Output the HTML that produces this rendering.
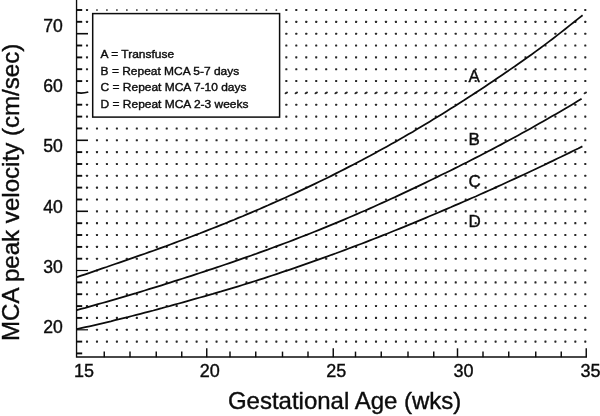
<!DOCTYPE html>
<html><head><meta charset="utf-8"><style>
html,body{margin:0;padding:0;background:#fff;}
svg{display:block;will-change:transform;opacity:0.999;filter:blur(0.3px)}
text{font-family:"Liberation Sans",sans-serif;fill:#0c0c0c;stroke:#0c0c0c;stroke-width:0.38}
</style></head><body>
<svg width="600" height="416" viewBox="0 0 600 416">
<rect width="600" height="416" fill="#fff"/>
<g fill="#262626" stroke="none"><rect x="85.95" y="8.95" width="2.1" height="2.1" rx="0.55"/><rect x="96.12" y="9.15" width="1.7" height="1.7" rx="0.5"/><rect x="106.08" y="9.15" width="1.7" height="1.7" rx="0.5"/><rect x="116.05" y="9.15" width="1.7" height="1.7" rx="0.5"/><rect x="126.01" y="9.15" width="1.7" height="1.7" rx="0.5"/><rect x="135.98" y="9.15" width="1.7" height="1.7" rx="0.5"/><rect x="145.95" y="9.15" width="1.7" height="1.7" rx="0.5"/><rect x="155.91" y="9.15" width="1.7" height="1.7" rx="0.5"/><rect x="165.88" y="9.15" width="1.7" height="1.7" rx="0.5"/><rect x="175.84" y="9.15" width="1.7" height="1.7" rx="0.5"/><rect x="185.81" y="9.15" width="1.7" height="1.7" rx="0.5"/><rect x="195.78" y="9.15" width="1.7" height="1.7" rx="0.5"/><rect x="205.74" y="9.15" width="1.7" height="1.7" rx="0.5"/><rect x="215.71" y="9.15" width="1.7" height="1.7" rx="0.5"/><rect x="225.67" y="9.15" width="1.7" height="1.7" rx="0.5"/><rect x="235.64" y="9.15" width="1.7" height="1.7" rx="0.5"/><rect x="245.61" y="9.15" width="1.7" height="1.7" rx="0.5"/><rect x="255.57" y="9.15" width="1.7" height="1.7" rx="0.5"/><rect x="265.54" y="9.15" width="1.7" height="1.7" rx="0.5"/><rect x="275.50" y="9.15" width="1.7" height="1.7" rx="0.5"/><rect x="285.27" y="8.95" width="2.1" height="2.1" rx="0.55"/><rect x="295.24" y="8.95" width="2.1" height="2.1" rx="0.55"/><rect x="305.20" y="8.95" width="2.1" height="2.1" rx="0.55"/><rect x="315.17" y="8.95" width="2.1" height="2.1" rx="0.55"/><rect x="325.13" y="8.95" width="2.1" height="2.1" rx="0.55"/><rect x="335.10" y="8.95" width="2.1" height="2.1" rx="0.55"/><rect x="345.07" y="8.95" width="2.1" height="2.1" rx="0.55"/><rect x="355.03" y="8.95" width="2.1" height="2.1" rx="0.55"/><rect x="365.00" y="8.95" width="2.1" height="2.1" rx="0.55"/><rect x="374.96" y="8.95" width="2.1" height="2.1" rx="0.55"/><rect x="384.93" y="8.95" width="2.1" height="2.1" rx="0.55"/><rect x="394.90" y="8.95" width="2.1" height="2.1" rx="0.55"/><rect x="404.86" y="8.95" width="2.1" height="2.1" rx="0.55"/><rect x="414.83" y="8.95" width="2.1" height="2.1" rx="0.55"/><rect x="424.79" y="8.95" width="2.1" height="2.1" rx="0.55"/><rect x="434.76" y="8.95" width="2.1" height="2.1" rx="0.55"/><rect x="444.73" y="8.95" width="2.1" height="2.1" rx="0.55"/><rect x="454.69" y="8.95" width="2.1" height="2.1" rx="0.55"/><rect x="464.66" y="8.95" width="2.1" height="2.1" rx="0.55"/><rect x="474.62" y="8.95" width="2.1" height="2.1" rx="0.55"/><rect x="484.59" y="8.95" width="2.1" height="2.1" rx="0.55"/><rect x="494.56" y="8.95" width="2.1" height="2.1" rx="0.55"/><rect x="504.52" y="8.95" width="2.1" height="2.1" rx="0.55"/><rect x="514.49" y="8.95" width="2.1" height="2.1" rx="0.55"/><rect x="524.45" y="8.95" width="2.1" height="2.1" rx="0.55"/><rect x="534.42" y="8.95" width="2.1" height="2.1" rx="0.55"/><rect x="544.39" y="8.95" width="2.1" height="2.1" rx="0.55"/><rect x="554.35" y="8.95" width="2.1" height="2.1" rx="0.55"/><rect x="564.32" y="8.95" width="2.1" height="2.1" rx="0.55"/><rect x="574.28" y="8.95" width="2.1" height="2.1" rx="0.55"/><rect x="584.25" y="8.95" width="2.1" height="2.1" rx="0.55"/><rect x="85.95" y="20.79" width="2.1" height="2.1" rx="0.55"/><rect x="285.27" y="20.79" width="2.1" height="2.1" rx="0.55"/><rect x="295.24" y="20.79" width="2.1" height="2.1" rx="0.55"/><rect x="305.20" y="20.79" width="2.1" height="2.1" rx="0.55"/><rect x="315.17" y="20.79" width="2.1" height="2.1" rx="0.55"/><rect x="325.13" y="20.79" width="2.1" height="2.1" rx="0.55"/><rect x="335.10" y="20.79" width="2.1" height="2.1" rx="0.55"/><rect x="345.07" y="20.79" width="2.1" height="2.1" rx="0.55"/><rect x="355.03" y="20.79" width="2.1" height="2.1" rx="0.55"/><rect x="365.00" y="20.79" width="2.1" height="2.1" rx="0.55"/><rect x="374.96" y="20.79" width="2.1" height="2.1" rx="0.55"/><rect x="384.93" y="20.79" width="2.1" height="2.1" rx="0.55"/><rect x="394.90" y="20.79" width="2.1" height="2.1" rx="0.55"/><rect x="404.86" y="20.79" width="2.1" height="2.1" rx="0.55"/><rect x="414.83" y="20.79" width="2.1" height="2.1" rx="0.55"/><rect x="424.79" y="20.79" width="2.1" height="2.1" rx="0.55"/><rect x="434.76" y="20.79" width="2.1" height="2.1" rx="0.55"/><rect x="444.73" y="20.79" width="2.1" height="2.1" rx="0.55"/><rect x="454.69" y="20.79" width="2.1" height="2.1" rx="0.55"/><rect x="464.66" y="20.79" width="2.1" height="2.1" rx="0.55"/><rect x="474.62" y="20.79" width="2.1" height="2.1" rx="0.55"/><rect x="484.59" y="20.79" width="2.1" height="2.1" rx="0.55"/><rect x="494.56" y="20.79" width="2.1" height="2.1" rx="0.55"/><rect x="504.52" y="20.79" width="2.1" height="2.1" rx="0.55"/><rect x="514.49" y="20.79" width="2.1" height="2.1" rx="0.55"/><rect x="524.45" y="20.79" width="2.1" height="2.1" rx="0.55"/><rect x="534.42" y="20.79" width="2.1" height="2.1" rx="0.55"/><rect x="544.39" y="20.79" width="2.1" height="2.1" rx="0.55"/><rect x="554.35" y="20.79" width="2.1" height="2.1" rx="0.55"/><rect x="564.32" y="20.79" width="2.1" height="2.1" rx="0.55"/><rect x="574.28" y="20.79" width="2.1" height="2.1" rx="0.55"/><rect x="584.25" y="20.79" width="2.1" height="2.1" rx="0.55"/><rect x="285.27" y="32.64" width="2.1" height="2.1" rx="0.55"/><rect x="295.24" y="32.64" width="2.1" height="2.1" rx="0.55"/><rect x="305.20" y="32.64" width="2.1" height="2.1" rx="0.55"/><rect x="315.17" y="32.64" width="2.1" height="2.1" rx="0.55"/><rect x="325.13" y="32.64" width="2.1" height="2.1" rx="0.55"/><rect x="335.10" y="32.64" width="2.1" height="2.1" rx="0.55"/><rect x="345.07" y="32.64" width="2.1" height="2.1" rx="0.55"/><rect x="355.03" y="32.64" width="2.1" height="2.1" rx="0.55"/><rect x="365.00" y="32.64" width="2.1" height="2.1" rx="0.55"/><rect x="374.96" y="32.64" width="2.1" height="2.1" rx="0.55"/><rect x="384.93" y="32.64" width="2.1" height="2.1" rx="0.55"/><rect x="394.90" y="32.64" width="2.1" height="2.1" rx="0.55"/><rect x="404.86" y="32.64" width="2.1" height="2.1" rx="0.55"/><rect x="414.83" y="32.64" width="2.1" height="2.1" rx="0.55"/><rect x="424.79" y="32.64" width="2.1" height="2.1" rx="0.55"/><rect x="434.76" y="32.64" width="2.1" height="2.1" rx="0.55"/><rect x="444.73" y="32.64" width="2.1" height="2.1" rx="0.55"/><rect x="454.69" y="32.64" width="2.1" height="2.1" rx="0.55"/><rect x="464.66" y="32.64" width="2.1" height="2.1" rx="0.55"/><rect x="474.62" y="32.64" width="2.1" height="2.1" rx="0.55"/><rect x="484.59" y="32.64" width="2.1" height="2.1" rx="0.55"/><rect x="494.56" y="32.64" width="2.1" height="2.1" rx="0.55"/><rect x="504.52" y="32.64" width="2.1" height="2.1" rx="0.55"/><rect x="514.49" y="32.64" width="2.1" height="2.1" rx="0.55"/><rect x="524.45" y="32.64" width="2.1" height="2.1" rx="0.55"/><rect x="534.42" y="32.64" width="2.1" height="2.1" rx="0.55"/><rect x="544.39" y="32.64" width="2.1" height="2.1" rx="0.55"/><rect x="554.35" y="32.64" width="2.1" height="2.1" rx="0.55"/><rect x="564.32" y="32.64" width="2.1" height="2.1" rx="0.55"/><rect x="574.28" y="32.64" width="2.1" height="2.1" rx="0.55"/><rect x="584.25" y="32.64" width="2.1" height="2.1" rx="0.55"/><rect x="85.95" y="44.48" width="2.1" height="2.1" rx="0.55"/><rect x="285.27" y="44.48" width="2.1" height="2.1" rx="0.55"/><rect x="295.24" y="44.48" width="2.1" height="2.1" rx="0.55"/><rect x="305.20" y="44.48" width="2.1" height="2.1" rx="0.55"/><rect x="315.17" y="44.48" width="2.1" height="2.1" rx="0.55"/><rect x="325.13" y="44.48" width="2.1" height="2.1" rx="0.55"/><rect x="335.10" y="44.48" width="2.1" height="2.1" rx="0.55"/><rect x="345.07" y="44.48" width="2.1" height="2.1" rx="0.55"/><rect x="355.03" y="44.48" width="2.1" height="2.1" rx="0.55"/><rect x="365.00" y="44.48" width="2.1" height="2.1" rx="0.55"/><rect x="374.96" y="44.48" width="2.1" height="2.1" rx="0.55"/><rect x="384.93" y="44.48" width="2.1" height="2.1" rx="0.55"/><rect x="394.90" y="44.48" width="2.1" height="2.1" rx="0.55"/><rect x="404.86" y="44.48" width="2.1" height="2.1" rx="0.55"/><rect x="414.83" y="44.48" width="2.1" height="2.1" rx="0.55"/><rect x="424.79" y="44.48" width="2.1" height="2.1" rx="0.55"/><rect x="434.76" y="44.48" width="2.1" height="2.1" rx="0.55"/><rect x="444.73" y="44.48" width="2.1" height="2.1" rx="0.55"/><rect x="454.69" y="44.48" width="2.1" height="2.1" rx="0.55"/><rect x="464.66" y="44.48" width="2.1" height="2.1" rx="0.55"/><rect x="474.62" y="44.48" width="2.1" height="2.1" rx="0.55"/><rect x="484.59" y="44.48" width="2.1" height="2.1" rx="0.55"/><rect x="494.56" y="44.48" width="2.1" height="2.1" rx="0.55"/><rect x="504.52" y="44.48" width="2.1" height="2.1" rx="0.55"/><rect x="514.49" y="44.48" width="2.1" height="2.1" rx="0.55"/><rect x="524.45" y="44.48" width="2.1" height="2.1" rx="0.55"/><rect x="534.42" y="44.48" width="2.1" height="2.1" rx="0.55"/><rect x="544.39" y="44.48" width="2.1" height="2.1" rx="0.55"/><rect x="554.35" y="44.48" width="2.1" height="2.1" rx="0.55"/><rect x="564.32" y="44.48" width="2.1" height="2.1" rx="0.55"/><rect x="574.28" y="44.48" width="2.1" height="2.1" rx="0.55"/><rect x="584.25" y="44.48" width="2.1" height="2.1" rx="0.55"/><rect x="85.95" y="56.32" width="2.1" height="2.1" rx="0.55"/><rect x="285.27" y="56.32" width="2.1" height="2.1" rx="0.55"/><rect x="295.24" y="56.32" width="2.1" height="2.1" rx="0.55"/><rect x="305.20" y="56.32" width="2.1" height="2.1" rx="0.55"/><rect x="315.17" y="56.32" width="2.1" height="2.1" rx="0.55"/><rect x="325.13" y="56.32" width="2.1" height="2.1" rx="0.55"/><rect x="335.10" y="56.32" width="2.1" height="2.1" rx="0.55"/><rect x="345.07" y="56.32" width="2.1" height="2.1" rx="0.55"/><rect x="355.03" y="56.32" width="2.1" height="2.1" rx="0.55"/><rect x="365.00" y="56.32" width="2.1" height="2.1" rx="0.55"/><rect x="374.96" y="56.32" width="2.1" height="2.1" rx="0.55"/><rect x="384.93" y="56.32" width="2.1" height="2.1" rx="0.55"/><rect x="394.90" y="56.32" width="2.1" height="2.1" rx="0.55"/><rect x="404.86" y="56.32" width="2.1" height="2.1" rx="0.55"/><rect x="414.83" y="56.32" width="2.1" height="2.1" rx="0.55"/><rect x="424.79" y="56.32" width="2.1" height="2.1" rx="0.55"/><rect x="434.76" y="56.32" width="2.1" height="2.1" rx="0.55"/><rect x="444.73" y="56.32" width="2.1" height="2.1" rx="0.55"/><rect x="454.69" y="56.32" width="2.1" height="2.1" rx="0.55"/><rect x="464.66" y="56.32" width="2.1" height="2.1" rx="0.55"/><rect x="474.62" y="56.32" width="2.1" height="2.1" rx="0.55"/><rect x="484.59" y="56.32" width="2.1" height="2.1" rx="0.55"/><rect x="494.56" y="56.32" width="2.1" height="2.1" rx="0.55"/><rect x="504.52" y="56.32" width="2.1" height="2.1" rx="0.55"/><rect x="514.49" y="56.32" width="2.1" height="2.1" rx="0.55"/><rect x="524.45" y="56.32" width="2.1" height="2.1" rx="0.55"/><rect x="534.42" y="56.32" width="2.1" height="2.1" rx="0.55"/><rect x="544.39" y="56.32" width="2.1" height="2.1" rx="0.55"/><rect x="554.35" y="56.32" width="2.1" height="2.1" rx="0.55"/><rect x="564.32" y="56.32" width="2.1" height="2.1" rx="0.55"/><rect x="574.28" y="56.32" width="2.1" height="2.1" rx="0.55"/><rect x="584.25" y="56.32" width="2.1" height="2.1" rx="0.55"/><rect x="85.95" y="68.16" width="2.1" height="2.1" rx="0.55"/><rect x="285.27" y="68.16" width="2.1" height="2.1" rx="0.55"/><rect x="295.24" y="68.16" width="2.1" height="2.1" rx="0.55"/><rect x="305.20" y="68.16" width="2.1" height="2.1" rx="0.55"/><rect x="315.17" y="68.16" width="2.1" height="2.1" rx="0.55"/><rect x="325.13" y="68.16" width="2.1" height="2.1" rx="0.55"/><rect x="335.10" y="68.16" width="2.1" height="2.1" rx="0.55"/><rect x="345.07" y="68.16" width="2.1" height="2.1" rx="0.55"/><rect x="355.03" y="68.16" width="2.1" height="2.1" rx="0.55"/><rect x="365.00" y="68.16" width="2.1" height="2.1" rx="0.55"/><rect x="374.96" y="68.16" width="2.1" height="2.1" rx="0.55"/><rect x="384.93" y="68.16" width="2.1" height="2.1" rx="0.55"/><rect x="394.90" y="68.16" width="2.1" height="2.1" rx="0.55"/><rect x="404.86" y="68.16" width="2.1" height="2.1" rx="0.55"/><rect x="414.83" y="68.16" width="2.1" height="2.1" rx="0.55"/><rect x="424.79" y="68.16" width="2.1" height="2.1" rx="0.55"/><rect x="434.76" y="68.16" width="2.1" height="2.1" rx="0.55"/><rect x="444.73" y="68.16" width="2.1" height="2.1" rx="0.55"/><rect x="454.69" y="68.16" width="2.1" height="2.1" rx="0.55"/><rect x="464.66" y="68.16" width="2.1" height="2.1" rx="0.55"/><rect x="474.62" y="68.16" width="2.1" height="2.1" rx="0.55"/><rect x="484.59" y="68.16" width="2.1" height="2.1" rx="0.55"/><rect x="494.56" y="68.16" width="2.1" height="2.1" rx="0.55"/><rect x="504.52" y="68.16" width="2.1" height="2.1" rx="0.55"/><rect x="514.49" y="68.16" width="2.1" height="2.1" rx="0.55"/><rect x="524.45" y="68.16" width="2.1" height="2.1" rx="0.55"/><rect x="534.42" y="68.16" width="2.1" height="2.1" rx="0.55"/><rect x="544.39" y="68.16" width="2.1" height="2.1" rx="0.55"/><rect x="554.35" y="68.16" width="2.1" height="2.1" rx="0.55"/><rect x="564.32" y="68.16" width="2.1" height="2.1" rx="0.55"/><rect x="574.28" y="68.16" width="2.1" height="2.1" rx="0.55"/><rect x="584.25" y="68.16" width="2.1" height="2.1" rx="0.55"/><rect x="85.95" y="80.01" width="2.1" height="2.1" rx="0.55"/><rect x="285.27" y="80.01" width="2.1" height="2.1" rx="0.55"/><rect x="295.24" y="80.01" width="2.1" height="2.1" rx="0.55"/><rect x="305.20" y="80.01" width="2.1" height="2.1" rx="0.55"/><rect x="315.17" y="80.01" width="2.1" height="2.1" rx="0.55"/><rect x="325.13" y="80.01" width="2.1" height="2.1" rx="0.55"/><rect x="335.10" y="80.01" width="2.1" height="2.1" rx="0.55"/><rect x="345.07" y="80.01" width="2.1" height="2.1" rx="0.55"/><rect x="355.03" y="80.01" width="2.1" height="2.1" rx="0.55"/><rect x="365.00" y="80.01" width="2.1" height="2.1" rx="0.55"/><rect x="374.96" y="80.01" width="2.1" height="2.1" rx="0.55"/><rect x="384.93" y="80.01" width="2.1" height="2.1" rx="0.55"/><rect x="394.90" y="80.01" width="2.1" height="2.1" rx="0.55"/><rect x="404.86" y="80.01" width="2.1" height="2.1" rx="0.55"/><rect x="414.83" y="80.01" width="2.1" height="2.1" rx="0.55"/><rect x="424.79" y="80.01" width="2.1" height="2.1" rx="0.55"/><rect x="434.76" y="80.01" width="2.1" height="2.1" rx="0.55"/><rect x="444.73" y="80.01" width="2.1" height="2.1" rx="0.55"/><rect x="454.69" y="80.01" width="2.1" height="2.1" rx="0.55"/><rect x="464.66" y="80.01" width="2.1" height="2.1" rx="0.55"/><rect x="474.62" y="80.01" width="2.1" height="2.1" rx="0.55"/><rect x="484.59" y="80.01" width="2.1" height="2.1" rx="0.55"/><rect x="494.56" y="80.01" width="2.1" height="2.1" rx="0.55"/><rect x="504.52" y="80.01" width="2.1" height="2.1" rx="0.55"/><rect x="514.49" y="80.01" width="2.1" height="2.1" rx="0.55"/><rect x="524.45" y="80.01" width="2.1" height="2.1" rx="0.55"/><rect x="534.42" y="80.01" width="2.1" height="2.1" rx="0.55"/><rect x="544.39" y="80.01" width="2.1" height="2.1" rx="0.55"/><rect x="554.35" y="80.01" width="2.1" height="2.1" rx="0.55"/><rect x="564.32" y="80.01" width="2.1" height="2.1" rx="0.55"/><rect x="574.28" y="80.01" width="2.1" height="2.1" rx="0.55"/><rect x="584.25" y="80.01" width="2.1" height="2.1" rx="0.55"/><ellipse cx="286.3" cy="92.9" rx="1.85" ry="1.1" transform="rotate(-28 286.3 92.9)"/><ellipse cx="296.3" cy="92.9" rx="1.85" ry="1.1" transform="rotate(-28 296.3 92.9)"/><ellipse cx="306.3" cy="92.9" rx="1.85" ry="1.1" transform="rotate(-28 306.3 92.9)"/><ellipse cx="316.2" cy="92.9" rx="1.85" ry="1.1" transform="rotate(-28 316.2 92.9)"/><ellipse cx="326.2" cy="92.9" rx="1.85" ry="1.1" transform="rotate(-28 326.2 92.9)"/><ellipse cx="336.1" cy="92.9" rx="1.85" ry="1.1" transform="rotate(-28 336.1 92.9)"/><ellipse cx="346.1" cy="92.9" rx="1.85" ry="1.1" transform="rotate(-28 346.1 92.9)"/><ellipse cx="356.1" cy="92.9" rx="1.85" ry="1.1" transform="rotate(-28 356.1 92.9)"/><ellipse cx="366.0" cy="92.9" rx="1.85" ry="1.1" transform="rotate(-28 366.0 92.9)"/><ellipse cx="376.0" cy="92.9" rx="1.85" ry="1.1" transform="rotate(-28 376.0 92.9)"/><ellipse cx="386.0" cy="92.9" rx="1.85" ry="1.1" transform="rotate(-28 386.0 92.9)"/><ellipse cx="395.9" cy="92.9" rx="1.85" ry="1.1" transform="rotate(-28 395.9 92.9)"/><ellipse cx="405.9" cy="92.9" rx="1.85" ry="1.1" transform="rotate(-28 405.9 92.9)"/><ellipse cx="415.9" cy="92.9" rx="1.85" ry="1.1" transform="rotate(-28 415.9 92.9)"/><ellipse cx="425.8" cy="92.9" rx="1.85" ry="1.1" transform="rotate(-28 425.8 92.9)"/><ellipse cx="435.8" cy="92.9" rx="1.85" ry="1.1" transform="rotate(-28 435.8 92.9)"/><ellipse cx="445.8" cy="92.9" rx="1.85" ry="1.1" transform="rotate(-28 445.8 92.9)"/><ellipse cx="455.7" cy="92.9" rx="1.85" ry="1.1" transform="rotate(-28 455.7 92.9)"/><ellipse cx="465.7" cy="92.9" rx="1.85" ry="1.1" transform="rotate(-28 465.7 92.9)"/><ellipse cx="475.7" cy="92.9" rx="1.85" ry="1.1" transform="rotate(-28 475.7 92.9)"/><ellipse cx="485.6" cy="92.9" rx="1.85" ry="1.1" transform="rotate(-28 485.6 92.9)"/><ellipse cx="495.6" cy="92.9" rx="1.85" ry="1.1" transform="rotate(-28 495.6 92.9)"/><ellipse cx="505.6" cy="92.9" rx="1.85" ry="1.1" transform="rotate(-28 505.6 92.9)"/><ellipse cx="515.5" cy="92.9" rx="1.85" ry="1.1" transform="rotate(-28 515.5 92.9)"/><ellipse cx="525.5" cy="92.9" rx="1.85" ry="1.1" transform="rotate(-28 525.5 92.9)"/><ellipse cx="535.5" cy="92.9" rx="1.85" ry="1.1" transform="rotate(-28 535.5 92.9)"/><ellipse cx="545.4" cy="92.9" rx="1.85" ry="1.1" transform="rotate(-28 545.4 92.9)"/><ellipse cx="555.4" cy="92.9" rx="1.85" ry="1.1" transform="rotate(-28 555.4 92.9)"/><ellipse cx="565.4" cy="92.9" rx="1.85" ry="1.1" transform="rotate(-28 565.4 92.9)"/><ellipse cx="575.3" cy="92.9" rx="1.85" ry="1.1" transform="rotate(-28 575.3 92.9)"/><ellipse cx="585.3" cy="92.9" rx="1.85" ry="1.1" transform="rotate(-28 585.3 92.9)"/><rect x="85.95" y="103.69" width="2.1" height="2.1" rx="0.55"/><rect x="285.27" y="103.69" width="2.1" height="2.1" rx="0.55"/><rect x="295.24" y="103.69" width="2.1" height="2.1" rx="0.55"/><rect x="305.20" y="103.69" width="2.1" height="2.1" rx="0.55"/><rect x="315.17" y="103.69" width="2.1" height="2.1" rx="0.55"/><rect x="325.13" y="103.69" width="2.1" height="2.1" rx="0.55"/><rect x="335.10" y="103.69" width="2.1" height="2.1" rx="0.55"/><rect x="345.07" y="103.69" width="2.1" height="2.1" rx="0.55"/><rect x="355.03" y="103.69" width="2.1" height="2.1" rx="0.55"/><rect x="365.00" y="103.69" width="2.1" height="2.1" rx="0.55"/><rect x="374.96" y="103.69" width="2.1" height="2.1" rx="0.55"/><rect x="384.93" y="103.69" width="2.1" height="2.1" rx="0.55"/><rect x="394.90" y="103.69" width="2.1" height="2.1" rx="0.55"/><rect x="404.86" y="103.69" width="2.1" height="2.1" rx="0.55"/><rect x="414.83" y="103.69" width="2.1" height="2.1" rx="0.55"/><rect x="424.79" y="103.69" width="2.1" height="2.1" rx="0.55"/><rect x="434.76" y="103.69" width="2.1" height="2.1" rx="0.55"/><rect x="444.73" y="103.69" width="2.1" height="2.1" rx="0.55"/><rect x="454.69" y="103.69" width="2.1" height="2.1" rx="0.55"/><rect x="464.66" y="103.69" width="2.1" height="2.1" rx="0.55"/><rect x="474.62" y="103.69" width="2.1" height="2.1" rx="0.55"/><rect x="484.59" y="103.69" width="2.1" height="2.1" rx="0.55"/><rect x="494.56" y="103.69" width="2.1" height="2.1" rx="0.55"/><rect x="504.52" y="103.69" width="2.1" height="2.1" rx="0.55"/><rect x="514.49" y="103.69" width="2.1" height="2.1" rx="0.55"/><rect x="524.45" y="103.69" width="2.1" height="2.1" rx="0.55"/><rect x="534.42" y="103.69" width="2.1" height="2.1" rx="0.55"/><rect x="544.39" y="103.69" width="2.1" height="2.1" rx="0.55"/><rect x="554.35" y="103.69" width="2.1" height="2.1" rx="0.55"/><rect x="564.32" y="103.69" width="2.1" height="2.1" rx="0.55"/><rect x="574.28" y="103.69" width="2.1" height="2.1" rx="0.55"/><rect x="584.25" y="103.69" width="2.1" height="2.1" rx="0.55"/><rect x="85.95" y="115.54" width="2.1" height="2.1" rx="0.55"/><rect x="285.27" y="115.54" width="2.1" height="2.1" rx="0.55"/><rect x="295.24" y="115.54" width="2.1" height="2.1" rx="0.55"/><rect x="305.20" y="115.54" width="2.1" height="2.1" rx="0.55"/><rect x="315.17" y="115.54" width="2.1" height="2.1" rx="0.55"/><rect x="325.13" y="115.54" width="2.1" height="2.1" rx="0.55"/><rect x="335.10" y="115.54" width="2.1" height="2.1" rx="0.55"/><rect x="345.07" y="115.54" width="2.1" height="2.1" rx="0.55"/><rect x="355.03" y="115.54" width="2.1" height="2.1" rx="0.55"/><rect x="365.00" y="115.54" width="2.1" height="2.1" rx="0.55"/><rect x="374.96" y="115.54" width="2.1" height="2.1" rx="0.55"/><rect x="384.93" y="115.54" width="2.1" height="2.1" rx="0.55"/><rect x="394.90" y="115.54" width="2.1" height="2.1" rx="0.55"/><rect x="404.86" y="115.54" width="2.1" height="2.1" rx="0.55"/><rect x="414.83" y="115.54" width="2.1" height="2.1" rx="0.55"/><rect x="424.79" y="115.54" width="2.1" height="2.1" rx="0.55"/><rect x="434.76" y="115.54" width="2.1" height="2.1" rx="0.55"/><rect x="444.73" y="115.54" width="2.1" height="2.1" rx="0.55"/><rect x="454.69" y="115.54" width="2.1" height="2.1" rx="0.55"/><rect x="464.66" y="115.54" width="2.1" height="2.1" rx="0.55"/><rect x="474.62" y="115.54" width="2.1" height="2.1" rx="0.55"/><rect x="484.59" y="115.54" width="2.1" height="2.1" rx="0.55"/><rect x="494.56" y="115.54" width="2.1" height="2.1" rx="0.55"/><rect x="504.52" y="115.54" width="2.1" height="2.1" rx="0.55"/><rect x="514.49" y="115.54" width="2.1" height="2.1" rx="0.55"/><rect x="524.45" y="115.54" width="2.1" height="2.1" rx="0.55"/><rect x="534.42" y="115.54" width="2.1" height="2.1" rx="0.55"/><rect x="544.39" y="115.54" width="2.1" height="2.1" rx="0.55"/><rect x="554.35" y="115.54" width="2.1" height="2.1" rx="0.55"/><rect x="564.32" y="115.54" width="2.1" height="2.1" rx="0.55"/><rect x="574.28" y="115.54" width="2.1" height="2.1" rx="0.55"/><rect x="584.25" y="115.54" width="2.1" height="2.1" rx="0.55"/><rect x="85.95" y="127.38" width="2.1" height="2.1" rx="0.55"/><rect x="95.92" y="127.38" width="2.1" height="2.1" rx="0.55"/><rect x="105.88" y="127.38" width="2.1" height="2.1" rx="0.55"/><rect x="115.85" y="127.38" width="2.1" height="2.1" rx="0.55"/><rect x="125.81" y="127.38" width="2.1" height="2.1" rx="0.55"/><rect x="135.78" y="127.38" width="2.1" height="2.1" rx="0.55"/><rect x="145.75" y="127.38" width="2.1" height="2.1" rx="0.55"/><rect x="155.71" y="127.38" width="2.1" height="2.1" rx="0.55"/><rect x="165.68" y="127.38" width="2.1" height="2.1" rx="0.55"/><rect x="175.64" y="127.38" width="2.1" height="2.1" rx="0.55"/><rect x="185.61" y="127.38" width="2.1" height="2.1" rx="0.55"/><rect x="195.58" y="127.38" width="2.1" height="2.1" rx="0.55"/><rect x="205.54" y="127.38" width="2.1" height="2.1" rx="0.55"/><rect x="215.51" y="127.38" width="2.1" height="2.1" rx="0.55"/><rect x="225.47" y="127.38" width="2.1" height="2.1" rx="0.55"/><rect x="235.44" y="127.38" width="2.1" height="2.1" rx="0.55"/><rect x="245.41" y="127.38" width="2.1" height="2.1" rx="0.55"/><rect x="255.37" y="127.38" width="2.1" height="2.1" rx="0.55"/><rect x="265.34" y="127.38" width="2.1" height="2.1" rx="0.55"/><rect x="275.30" y="127.38" width="2.1" height="2.1" rx="0.55"/><rect x="285.27" y="127.38" width="2.1" height="2.1" rx="0.55"/><rect x="295.24" y="127.38" width="2.1" height="2.1" rx="0.55"/><rect x="305.20" y="127.38" width="2.1" height="2.1" rx="0.55"/><rect x="315.17" y="127.38" width="2.1" height="2.1" rx="0.55"/><rect x="325.13" y="127.38" width="2.1" height="2.1" rx="0.55"/><rect x="335.10" y="127.38" width="2.1" height="2.1" rx="0.55"/><rect x="345.07" y="127.38" width="2.1" height="2.1" rx="0.55"/><rect x="355.03" y="127.38" width="2.1" height="2.1" rx="0.55"/><rect x="365.00" y="127.38" width="2.1" height="2.1" rx="0.55"/><rect x="374.96" y="127.38" width="2.1" height="2.1" rx="0.55"/><rect x="384.93" y="127.38" width="2.1" height="2.1" rx="0.55"/><rect x="394.90" y="127.38" width="2.1" height="2.1" rx="0.55"/><rect x="404.86" y="127.38" width="2.1" height="2.1" rx="0.55"/><rect x="414.83" y="127.38" width="2.1" height="2.1" rx="0.55"/><rect x="424.79" y="127.38" width="2.1" height="2.1" rx="0.55"/><rect x="434.76" y="127.38" width="2.1" height="2.1" rx="0.55"/><rect x="444.73" y="127.38" width="2.1" height="2.1" rx="0.55"/><rect x="454.69" y="127.38" width="2.1" height="2.1" rx="0.55"/><rect x="464.66" y="127.38" width="2.1" height="2.1" rx="0.55"/><rect x="474.62" y="127.38" width="2.1" height="2.1" rx="0.55"/><rect x="484.59" y="127.38" width="2.1" height="2.1" rx="0.55"/><rect x="494.56" y="127.38" width="2.1" height="2.1" rx="0.55"/><rect x="504.52" y="127.38" width="2.1" height="2.1" rx="0.55"/><rect x="514.49" y="127.38" width="2.1" height="2.1" rx="0.55"/><rect x="524.45" y="127.38" width="2.1" height="2.1" rx="0.55"/><rect x="534.42" y="127.38" width="2.1" height="2.1" rx="0.55"/><rect x="544.39" y="127.38" width="2.1" height="2.1" rx="0.55"/><rect x="554.35" y="127.38" width="2.1" height="2.1" rx="0.55"/><rect x="564.32" y="127.38" width="2.1" height="2.1" rx="0.55"/><rect x="574.28" y="127.38" width="2.1" height="2.1" rx="0.55"/><rect x="584.25" y="127.38" width="2.1" height="2.1" rx="0.55"/><rect x="95.92" y="139.22" width="2.1" height="2.1" rx="0.55"/><rect x="105.88" y="139.22" width="2.1" height="2.1" rx="0.55"/><rect x="115.85" y="139.22" width="2.1" height="2.1" rx="0.55"/><rect x="125.81" y="139.22" width="2.1" height="2.1" rx="0.55"/><rect x="135.78" y="139.22" width="2.1" height="2.1" rx="0.55"/><rect x="145.75" y="139.22" width="2.1" height="2.1" rx="0.55"/><rect x="155.71" y="139.22" width="2.1" height="2.1" rx="0.55"/><rect x="165.68" y="139.22" width="2.1" height="2.1" rx="0.55"/><rect x="175.64" y="139.22" width="2.1" height="2.1" rx="0.55"/><rect x="185.61" y="139.22" width="2.1" height="2.1" rx="0.55"/><rect x="195.58" y="139.22" width="2.1" height="2.1" rx="0.55"/><rect x="205.54" y="139.22" width="2.1" height="2.1" rx="0.55"/><rect x="215.51" y="139.22" width="2.1" height="2.1" rx="0.55"/><rect x="225.47" y="139.22" width="2.1" height="2.1" rx="0.55"/><rect x="235.44" y="139.22" width="2.1" height="2.1" rx="0.55"/><rect x="245.41" y="139.22" width="2.1" height="2.1" rx="0.55"/><rect x="255.37" y="139.22" width="2.1" height="2.1" rx="0.55"/><rect x="265.34" y="139.22" width="2.1" height="2.1" rx="0.55"/><rect x="275.30" y="139.22" width="2.1" height="2.1" rx="0.55"/><rect x="285.27" y="139.22" width="2.1" height="2.1" rx="0.55"/><rect x="295.24" y="139.22" width="2.1" height="2.1" rx="0.55"/><rect x="305.20" y="139.22" width="2.1" height="2.1" rx="0.55"/><rect x="315.17" y="139.22" width="2.1" height="2.1" rx="0.55"/><rect x="325.13" y="139.22" width="2.1" height="2.1" rx="0.55"/><rect x="335.10" y="139.22" width="2.1" height="2.1" rx="0.55"/><rect x="345.07" y="139.22" width="2.1" height="2.1" rx="0.55"/><rect x="355.03" y="139.22" width="2.1" height="2.1" rx="0.55"/><rect x="365.00" y="139.22" width="2.1" height="2.1" rx="0.55"/><rect x="374.96" y="139.22" width="2.1" height="2.1" rx="0.55"/><rect x="384.93" y="139.22" width="2.1" height="2.1" rx="0.55"/><rect x="394.90" y="139.22" width="2.1" height="2.1" rx="0.55"/><rect x="404.86" y="139.22" width="2.1" height="2.1" rx="0.55"/><rect x="414.83" y="139.22" width="2.1" height="2.1" rx="0.55"/><rect x="424.79" y="139.22" width="2.1" height="2.1" rx="0.55"/><rect x="434.76" y="139.22" width="2.1" height="2.1" rx="0.55"/><rect x="444.73" y="139.22" width="2.1" height="2.1" rx="0.55"/><rect x="454.69" y="139.22" width="2.1" height="2.1" rx="0.55"/><rect x="464.66" y="139.22" width="2.1" height="2.1" rx="0.55"/><rect x="474.62" y="139.22" width="2.1" height="2.1" rx="0.55"/><rect x="484.59" y="139.22" width="2.1" height="2.1" rx="0.55"/><rect x="494.56" y="139.22" width="2.1" height="2.1" rx="0.55"/><rect x="504.52" y="139.22" width="2.1" height="2.1" rx="0.55"/><rect x="514.49" y="139.22" width="2.1" height="2.1" rx="0.55"/><rect x="524.45" y="139.22" width="2.1" height="2.1" rx="0.55"/><rect x="534.42" y="139.22" width="2.1" height="2.1" rx="0.55"/><rect x="544.39" y="139.22" width="2.1" height="2.1" rx="0.55"/><rect x="554.35" y="139.22" width="2.1" height="2.1" rx="0.55"/><rect x="564.32" y="139.22" width="2.1" height="2.1" rx="0.55"/><rect x="574.28" y="139.22" width="2.1" height="2.1" rx="0.55"/><rect x="584.25" y="139.22" width="2.1" height="2.1" rx="0.55"/><rect x="85.95" y="151.06" width="2.1" height="2.1" rx="0.55"/><rect x="95.92" y="151.06" width="2.1" height="2.1" rx="0.55"/><rect x="105.88" y="151.06" width="2.1" height="2.1" rx="0.55"/><rect x="115.85" y="151.06" width="2.1" height="2.1" rx="0.55"/><rect x="125.81" y="151.06" width="2.1" height="2.1" rx="0.55"/><rect x="135.78" y="151.06" width="2.1" height="2.1" rx="0.55"/><rect x="145.75" y="151.06" width="2.1" height="2.1" rx="0.55"/><rect x="155.71" y="151.06" width="2.1" height="2.1" rx="0.55"/><rect x="165.68" y="151.06" width="2.1" height="2.1" rx="0.55"/><rect x="175.64" y="151.06" width="2.1" height="2.1" rx="0.55"/><rect x="185.61" y="151.06" width="2.1" height="2.1" rx="0.55"/><rect x="195.58" y="151.06" width="2.1" height="2.1" rx="0.55"/><rect x="205.54" y="151.06" width="2.1" height="2.1" rx="0.55"/><rect x="215.51" y="151.06" width="2.1" height="2.1" rx="0.55"/><rect x="225.47" y="151.06" width="2.1" height="2.1" rx="0.55"/><rect x="235.44" y="151.06" width="2.1" height="2.1" rx="0.55"/><rect x="245.41" y="151.06" width="2.1" height="2.1" rx="0.55"/><rect x="255.37" y="151.06" width="2.1" height="2.1" rx="0.55"/><rect x="265.34" y="151.06" width="2.1" height="2.1" rx="0.55"/><rect x="275.30" y="151.06" width="2.1" height="2.1" rx="0.55"/><rect x="285.27" y="151.06" width="2.1" height="2.1" rx="0.55"/><rect x="295.24" y="151.06" width="2.1" height="2.1" rx="0.55"/><rect x="305.20" y="151.06" width="2.1" height="2.1" rx="0.55"/><rect x="315.17" y="151.06" width="2.1" height="2.1" rx="0.55"/><rect x="325.13" y="151.06" width="2.1" height="2.1" rx="0.55"/><rect x="335.10" y="151.06" width="2.1" height="2.1" rx="0.55"/><rect x="345.07" y="151.06" width="2.1" height="2.1" rx="0.55"/><rect x="355.03" y="151.06" width="2.1" height="2.1" rx="0.55"/><rect x="365.00" y="151.06" width="2.1" height="2.1" rx="0.55"/><rect x="374.96" y="151.06" width="2.1" height="2.1" rx="0.55"/><rect x="384.93" y="151.06" width="2.1" height="2.1" rx="0.55"/><rect x="394.90" y="151.06" width="2.1" height="2.1" rx="0.55"/><rect x="404.86" y="151.06" width="2.1" height="2.1" rx="0.55"/><rect x="414.83" y="151.06" width="2.1" height="2.1" rx="0.55"/><rect x="424.79" y="151.06" width="2.1" height="2.1" rx="0.55"/><rect x="434.76" y="151.06" width="2.1" height="2.1" rx="0.55"/><rect x="444.73" y="151.06" width="2.1" height="2.1" rx="0.55"/><rect x="454.69" y="151.06" width="2.1" height="2.1" rx="0.55"/><rect x="464.66" y="151.06" width="2.1" height="2.1" rx="0.55"/><rect x="474.62" y="151.06" width="2.1" height="2.1" rx="0.55"/><rect x="484.59" y="151.06" width="2.1" height="2.1" rx="0.55"/><rect x="494.56" y="151.06" width="2.1" height="2.1" rx="0.55"/><rect x="504.52" y="151.06" width="2.1" height="2.1" rx="0.55"/><rect x="514.49" y="151.06" width="2.1" height="2.1" rx="0.55"/><rect x="524.45" y="151.06" width="2.1" height="2.1" rx="0.55"/><rect x="534.42" y="151.06" width="2.1" height="2.1" rx="0.55"/><rect x="544.39" y="151.06" width="2.1" height="2.1" rx="0.55"/><rect x="554.35" y="151.06" width="2.1" height="2.1" rx="0.55"/><rect x="564.32" y="151.06" width="2.1" height="2.1" rx="0.55"/><rect x="574.28" y="151.06" width="2.1" height="2.1" rx="0.55"/><rect x="584.25" y="151.06" width="2.1" height="2.1" rx="0.55"/><rect x="85.95" y="162.91" width="2.1" height="2.1" rx="0.55"/><rect x="95.92" y="162.91" width="2.1" height="2.1" rx="0.55"/><rect x="105.88" y="162.91" width="2.1" height="2.1" rx="0.55"/><rect x="115.85" y="162.91" width="2.1" height="2.1" rx="0.55"/><rect x="125.81" y="162.91" width="2.1" height="2.1" rx="0.55"/><rect x="135.78" y="162.91" width="2.1" height="2.1" rx="0.55"/><rect x="145.75" y="162.91" width="2.1" height="2.1" rx="0.55"/><rect x="155.71" y="162.91" width="2.1" height="2.1" rx="0.55"/><rect x="165.68" y="162.91" width="2.1" height="2.1" rx="0.55"/><rect x="175.64" y="162.91" width="2.1" height="2.1" rx="0.55"/><rect x="185.61" y="162.91" width="2.1" height="2.1" rx="0.55"/><rect x="195.58" y="162.91" width="2.1" height="2.1" rx="0.55"/><rect x="205.54" y="162.91" width="2.1" height="2.1" rx="0.55"/><rect x="215.51" y="162.91" width="2.1" height="2.1" rx="0.55"/><rect x="225.47" y="162.91" width="2.1" height="2.1" rx="0.55"/><rect x="235.44" y="162.91" width="2.1" height="2.1" rx="0.55"/><rect x="245.41" y="162.91" width="2.1" height="2.1" rx="0.55"/><rect x="255.37" y="162.91" width="2.1" height="2.1" rx="0.55"/><rect x="265.34" y="162.91" width="2.1" height="2.1" rx="0.55"/><rect x="275.30" y="162.91" width="2.1" height="2.1" rx="0.55"/><rect x="285.27" y="162.91" width="2.1" height="2.1" rx="0.55"/><rect x="295.24" y="162.91" width="2.1" height="2.1" rx="0.55"/><rect x="305.20" y="162.91" width="2.1" height="2.1" rx="0.55"/><rect x="315.17" y="162.91" width="2.1" height="2.1" rx="0.55"/><rect x="325.13" y="162.91" width="2.1" height="2.1" rx="0.55"/><rect x="335.10" y="162.91" width="2.1" height="2.1" rx="0.55"/><rect x="345.07" y="162.91" width="2.1" height="2.1" rx="0.55"/><rect x="355.03" y="162.91" width="2.1" height="2.1" rx="0.55"/><rect x="365.00" y="162.91" width="2.1" height="2.1" rx="0.55"/><rect x="374.96" y="162.91" width="2.1" height="2.1" rx="0.55"/><rect x="384.93" y="162.91" width="2.1" height="2.1" rx="0.55"/><rect x="394.90" y="162.91" width="2.1" height="2.1" rx="0.55"/><rect x="404.86" y="162.91" width="2.1" height="2.1" rx="0.55"/><rect x="414.83" y="162.91" width="2.1" height="2.1" rx="0.55"/><rect x="424.79" y="162.91" width="2.1" height="2.1" rx="0.55"/><rect x="434.76" y="162.91" width="2.1" height="2.1" rx="0.55"/><rect x="444.73" y="162.91" width="2.1" height="2.1" rx="0.55"/><rect x="454.69" y="162.91" width="2.1" height="2.1" rx="0.55"/><rect x="464.66" y="162.91" width="2.1" height="2.1" rx="0.55"/><rect x="474.62" y="162.91" width="2.1" height="2.1" rx="0.55"/><rect x="484.59" y="162.91" width="2.1" height="2.1" rx="0.55"/><rect x="494.56" y="162.91" width="2.1" height="2.1" rx="0.55"/><rect x="504.52" y="162.91" width="2.1" height="2.1" rx="0.55"/><rect x="514.49" y="162.91" width="2.1" height="2.1" rx="0.55"/><rect x="524.45" y="162.91" width="2.1" height="2.1" rx="0.55"/><rect x="534.42" y="162.91" width="2.1" height="2.1" rx="0.55"/><rect x="544.39" y="162.91" width="2.1" height="2.1" rx="0.55"/><rect x="554.35" y="162.91" width="2.1" height="2.1" rx="0.55"/><rect x="564.32" y="162.91" width="2.1" height="2.1" rx="0.55"/><rect x="574.28" y="162.91" width="2.1" height="2.1" rx="0.55"/><rect x="584.25" y="162.91" width="2.1" height="2.1" rx="0.55"/><rect x="85.95" y="174.75" width="2.1" height="2.1" rx="0.55"/><rect x="95.92" y="174.75" width="2.1" height="2.1" rx="0.55"/><rect x="105.88" y="174.75" width="2.1" height="2.1" rx="0.55"/><rect x="115.85" y="174.75" width="2.1" height="2.1" rx="0.55"/><rect x="125.81" y="174.75" width="2.1" height="2.1" rx="0.55"/><rect x="135.78" y="174.75" width="2.1" height="2.1" rx="0.55"/><rect x="145.75" y="174.75" width="2.1" height="2.1" rx="0.55"/><rect x="155.71" y="174.75" width="2.1" height="2.1" rx="0.55"/><rect x="165.68" y="174.75" width="2.1" height="2.1" rx="0.55"/><rect x="175.64" y="174.75" width="2.1" height="2.1" rx="0.55"/><rect x="185.61" y="174.75" width="2.1" height="2.1" rx="0.55"/><rect x="195.58" y="174.75" width="2.1" height="2.1" rx="0.55"/><rect x="205.54" y="174.75" width="2.1" height="2.1" rx="0.55"/><rect x="215.51" y="174.75" width="2.1" height="2.1" rx="0.55"/><rect x="225.47" y="174.75" width="2.1" height="2.1" rx="0.55"/><rect x="235.44" y="174.75" width="2.1" height="2.1" rx="0.55"/><rect x="245.41" y="174.75" width="2.1" height="2.1" rx="0.55"/><rect x="255.37" y="174.75" width="2.1" height="2.1" rx="0.55"/><rect x="265.34" y="174.75" width="2.1" height="2.1" rx="0.55"/><rect x="275.30" y="174.75" width="2.1" height="2.1" rx="0.55"/><rect x="285.27" y="174.75" width="2.1" height="2.1" rx="0.55"/><rect x="295.24" y="174.75" width="2.1" height="2.1" rx="0.55"/><rect x="305.20" y="174.75" width="2.1" height="2.1" rx="0.55"/><rect x="315.17" y="174.75" width="2.1" height="2.1" rx="0.55"/><rect x="325.13" y="174.75" width="2.1" height="2.1" rx="0.55"/><rect x="335.10" y="174.75" width="2.1" height="2.1" rx="0.55"/><rect x="345.07" y="174.75" width="2.1" height="2.1" rx="0.55"/><rect x="355.03" y="174.75" width="2.1" height="2.1" rx="0.55"/><rect x="365.00" y="174.75" width="2.1" height="2.1" rx="0.55"/><rect x="374.96" y="174.75" width="2.1" height="2.1" rx="0.55"/><rect x="384.93" y="174.75" width="2.1" height="2.1" rx="0.55"/><rect x="394.90" y="174.75" width="2.1" height="2.1" rx="0.55"/><rect x="404.86" y="174.75" width="2.1" height="2.1" rx="0.55"/><rect x="414.83" y="174.75" width="2.1" height="2.1" rx="0.55"/><rect x="424.79" y="174.75" width="2.1" height="2.1" rx="0.55"/><rect x="434.76" y="174.75" width="2.1" height="2.1" rx="0.55"/><rect x="444.73" y="174.75" width="2.1" height="2.1" rx="0.55"/><rect x="454.69" y="174.75" width="2.1" height="2.1" rx="0.55"/><rect x="464.66" y="174.75" width="2.1" height="2.1" rx="0.55"/><rect x="474.62" y="174.75" width="2.1" height="2.1" rx="0.55"/><rect x="484.59" y="174.75" width="2.1" height="2.1" rx="0.55"/><rect x="494.56" y="174.75" width="2.1" height="2.1" rx="0.55"/><rect x="504.52" y="174.75" width="2.1" height="2.1" rx="0.55"/><rect x="514.49" y="174.75" width="2.1" height="2.1" rx="0.55"/><rect x="524.45" y="174.75" width="2.1" height="2.1" rx="0.55"/><rect x="534.42" y="174.75" width="2.1" height="2.1" rx="0.55"/><rect x="544.39" y="174.75" width="2.1" height="2.1" rx="0.55"/><rect x="554.35" y="174.75" width="2.1" height="2.1" rx="0.55"/><rect x="564.32" y="174.75" width="2.1" height="2.1" rx="0.55"/><rect x="574.28" y="174.75" width="2.1" height="2.1" rx="0.55"/><rect x="584.25" y="174.75" width="2.1" height="2.1" rx="0.55"/><rect x="85.95" y="186.59" width="2.1" height="2.1" rx="0.55"/><rect x="95.92" y="186.59" width="2.1" height="2.1" rx="0.55"/><rect x="105.88" y="186.59" width="2.1" height="2.1" rx="0.55"/><rect x="115.85" y="186.59" width="2.1" height="2.1" rx="0.55"/><rect x="125.81" y="186.59" width="2.1" height="2.1" rx="0.55"/><rect x="135.78" y="186.59" width="2.1" height="2.1" rx="0.55"/><rect x="145.75" y="186.59" width="2.1" height="2.1" rx="0.55"/><rect x="155.71" y="186.59" width="2.1" height="2.1" rx="0.55"/><rect x="165.68" y="186.59" width="2.1" height="2.1" rx="0.55"/><rect x="175.64" y="186.59" width="2.1" height="2.1" rx="0.55"/><rect x="185.61" y="186.59" width="2.1" height="2.1" rx="0.55"/><rect x="195.58" y="186.59" width="2.1" height="2.1" rx="0.55"/><rect x="205.54" y="186.59" width="2.1" height="2.1" rx="0.55"/><rect x="215.51" y="186.59" width="2.1" height="2.1" rx="0.55"/><rect x="225.47" y="186.59" width="2.1" height="2.1" rx="0.55"/><rect x="235.44" y="186.59" width="2.1" height="2.1" rx="0.55"/><rect x="245.41" y="186.59" width="2.1" height="2.1" rx="0.55"/><rect x="255.37" y="186.59" width="2.1" height="2.1" rx="0.55"/><rect x="265.34" y="186.59" width="2.1" height="2.1" rx="0.55"/><rect x="275.30" y="186.59" width="2.1" height="2.1" rx="0.55"/><rect x="285.27" y="186.59" width="2.1" height="2.1" rx="0.55"/><rect x="295.24" y="186.59" width="2.1" height="2.1" rx="0.55"/><rect x="305.20" y="186.59" width="2.1" height="2.1" rx="0.55"/><rect x="315.17" y="186.59" width="2.1" height="2.1" rx="0.55"/><rect x="325.13" y="186.59" width="2.1" height="2.1" rx="0.55"/><rect x="335.10" y="186.59" width="2.1" height="2.1" rx="0.55"/><rect x="345.07" y="186.59" width="2.1" height="2.1" rx="0.55"/><rect x="355.03" y="186.59" width="2.1" height="2.1" rx="0.55"/><rect x="365.00" y="186.59" width="2.1" height="2.1" rx="0.55"/><rect x="374.96" y="186.59" width="2.1" height="2.1" rx="0.55"/><rect x="384.93" y="186.59" width="2.1" height="2.1" rx="0.55"/><rect x="394.90" y="186.59" width="2.1" height="2.1" rx="0.55"/><rect x="404.86" y="186.59" width="2.1" height="2.1" rx="0.55"/><rect x="414.83" y="186.59" width="2.1" height="2.1" rx="0.55"/><rect x="424.79" y="186.59" width="2.1" height="2.1" rx="0.55"/><rect x="434.76" y="186.59" width="2.1" height="2.1" rx="0.55"/><rect x="444.73" y="186.59" width="2.1" height="2.1" rx="0.55"/><rect x="454.69" y="186.59" width="2.1" height="2.1" rx="0.55"/><rect x="464.66" y="186.59" width="2.1" height="2.1" rx="0.55"/><rect x="474.62" y="186.59" width="2.1" height="2.1" rx="0.55"/><rect x="484.59" y="186.59" width="2.1" height="2.1" rx="0.55"/><rect x="494.56" y="186.59" width="2.1" height="2.1" rx="0.55"/><rect x="504.52" y="186.59" width="2.1" height="2.1" rx="0.55"/><rect x="514.49" y="186.59" width="2.1" height="2.1" rx="0.55"/><rect x="524.45" y="186.59" width="2.1" height="2.1" rx="0.55"/><rect x="534.42" y="186.59" width="2.1" height="2.1" rx="0.55"/><rect x="544.39" y="186.59" width="2.1" height="2.1" rx="0.55"/><rect x="554.35" y="186.59" width="2.1" height="2.1" rx="0.55"/><rect x="564.32" y="186.59" width="2.1" height="2.1" rx="0.55"/><rect x="574.28" y="186.59" width="2.1" height="2.1" rx="0.55"/><rect x="584.25" y="186.59" width="2.1" height="2.1" rx="0.55"/><rect x="85.95" y="198.44" width="2.1" height="2.1" rx="0.55"/><rect x="95.92" y="198.44" width="2.1" height="2.1" rx="0.55"/><rect x="105.88" y="198.44" width="2.1" height="2.1" rx="0.55"/><rect x="115.85" y="198.44" width="2.1" height="2.1" rx="0.55"/><rect x="125.81" y="198.44" width="2.1" height="2.1" rx="0.55"/><rect x="135.78" y="198.44" width="2.1" height="2.1" rx="0.55"/><rect x="145.75" y="198.44" width="2.1" height="2.1" rx="0.55"/><rect x="155.71" y="198.44" width="2.1" height="2.1" rx="0.55"/><rect x="165.68" y="198.44" width="2.1" height="2.1" rx="0.55"/><rect x="175.64" y="198.44" width="2.1" height="2.1" rx="0.55"/><rect x="185.61" y="198.44" width="2.1" height="2.1" rx="0.55"/><rect x="195.58" y="198.44" width="2.1" height="2.1" rx="0.55"/><rect x="205.54" y="198.44" width="2.1" height="2.1" rx="0.55"/><rect x="215.51" y="198.44" width="2.1" height="2.1" rx="0.55"/><rect x="225.47" y="198.44" width="2.1" height="2.1" rx="0.55"/><rect x="235.44" y="198.44" width="2.1" height="2.1" rx="0.55"/><rect x="245.41" y="198.44" width="2.1" height="2.1" rx="0.55"/><rect x="255.37" y="198.44" width="2.1" height="2.1" rx="0.55"/><rect x="265.34" y="198.44" width="2.1" height="2.1" rx="0.55"/><rect x="275.30" y="198.44" width="2.1" height="2.1" rx="0.55"/><rect x="285.27" y="198.44" width="2.1" height="2.1" rx="0.55"/><rect x="295.24" y="198.44" width="2.1" height="2.1" rx="0.55"/><rect x="305.20" y="198.44" width="2.1" height="2.1" rx="0.55"/><rect x="315.17" y="198.44" width="2.1" height="2.1" rx="0.55"/><rect x="325.13" y="198.44" width="2.1" height="2.1" rx="0.55"/><rect x="335.10" y="198.44" width="2.1" height="2.1" rx="0.55"/><rect x="345.07" y="198.44" width="2.1" height="2.1" rx="0.55"/><rect x="355.03" y="198.44" width="2.1" height="2.1" rx="0.55"/><rect x="365.00" y="198.44" width="2.1" height="2.1" rx="0.55"/><rect x="374.96" y="198.44" width="2.1" height="2.1" rx="0.55"/><rect x="384.93" y="198.44" width="2.1" height="2.1" rx="0.55"/><rect x="394.90" y="198.44" width="2.1" height="2.1" rx="0.55"/><rect x="404.86" y="198.44" width="2.1" height="2.1" rx="0.55"/><rect x="414.83" y="198.44" width="2.1" height="2.1" rx="0.55"/><rect x="424.79" y="198.44" width="2.1" height="2.1" rx="0.55"/><rect x="434.76" y="198.44" width="2.1" height="2.1" rx="0.55"/><rect x="444.73" y="198.44" width="2.1" height="2.1" rx="0.55"/><rect x="454.69" y="198.44" width="2.1" height="2.1" rx="0.55"/><rect x="464.66" y="198.44" width="2.1" height="2.1" rx="0.55"/><rect x="474.62" y="198.44" width="2.1" height="2.1" rx="0.55"/><rect x="484.59" y="198.44" width="2.1" height="2.1" rx="0.55"/><rect x="494.56" y="198.44" width="2.1" height="2.1" rx="0.55"/><rect x="504.52" y="198.44" width="2.1" height="2.1" rx="0.55"/><rect x="514.49" y="198.44" width="2.1" height="2.1" rx="0.55"/><rect x="524.45" y="198.44" width="2.1" height="2.1" rx="0.55"/><rect x="534.42" y="198.44" width="2.1" height="2.1" rx="0.55"/><rect x="544.39" y="198.44" width="2.1" height="2.1" rx="0.55"/><rect x="554.35" y="198.44" width="2.1" height="2.1" rx="0.55"/><rect x="564.32" y="198.44" width="2.1" height="2.1" rx="0.55"/><rect x="574.28" y="198.44" width="2.1" height="2.1" rx="0.55"/><rect x="584.25" y="198.44" width="2.1" height="2.1" rx="0.55"/><rect x="95.92" y="210.28" width="2.1" height="2.1" rx="0.55"/><rect x="105.88" y="210.28" width="2.1" height="2.1" rx="0.55"/><rect x="115.85" y="210.28" width="2.1" height="2.1" rx="0.55"/><rect x="125.81" y="210.28" width="2.1" height="2.1" rx="0.55"/><rect x="135.78" y="210.28" width="2.1" height="2.1" rx="0.55"/><rect x="145.75" y="210.28" width="2.1" height="2.1" rx="0.55"/><rect x="155.71" y="210.28" width="2.1" height="2.1" rx="0.55"/><rect x="165.68" y="210.28" width="2.1" height="2.1" rx="0.55"/><rect x="175.64" y="210.28" width="2.1" height="2.1" rx="0.55"/><rect x="185.61" y="210.28" width="2.1" height="2.1" rx="0.55"/><rect x="195.58" y="210.28" width="2.1" height="2.1" rx="0.55"/><rect x="205.54" y="210.28" width="2.1" height="2.1" rx="0.55"/><rect x="215.51" y="210.28" width="2.1" height="2.1" rx="0.55"/><rect x="225.47" y="210.28" width="2.1" height="2.1" rx="0.55"/><rect x="235.44" y="210.28" width="2.1" height="2.1" rx="0.55"/><rect x="245.41" y="210.28" width="2.1" height="2.1" rx="0.55"/><rect x="255.37" y="210.28" width="2.1" height="2.1" rx="0.55"/><rect x="265.34" y="210.28" width="2.1" height="2.1" rx="0.55"/><rect x="275.30" y="210.28" width="2.1" height="2.1" rx="0.55"/><rect x="285.27" y="210.28" width="2.1" height="2.1" rx="0.55"/><rect x="295.24" y="210.28" width="2.1" height="2.1" rx="0.55"/><rect x="305.20" y="210.28" width="2.1" height="2.1" rx="0.55"/><rect x="315.17" y="210.28" width="2.1" height="2.1" rx="0.55"/><rect x="325.13" y="210.28" width="2.1" height="2.1" rx="0.55"/><rect x="335.10" y="210.28" width="2.1" height="2.1" rx="0.55"/><rect x="345.07" y="210.28" width="2.1" height="2.1" rx="0.55"/><rect x="355.03" y="210.28" width="2.1" height="2.1" rx="0.55"/><rect x="365.00" y="210.28" width="2.1" height="2.1" rx="0.55"/><rect x="374.96" y="210.28" width="2.1" height="2.1" rx="0.55"/><rect x="384.93" y="210.28" width="2.1" height="2.1" rx="0.55"/><rect x="394.90" y="210.28" width="2.1" height="2.1" rx="0.55"/><rect x="404.86" y="210.28" width="2.1" height="2.1" rx="0.55"/><rect x="414.83" y="210.28" width="2.1" height="2.1" rx="0.55"/><rect x="424.79" y="210.28" width="2.1" height="2.1" rx="0.55"/><rect x="434.76" y="210.28" width="2.1" height="2.1" rx="0.55"/><rect x="444.73" y="210.28" width="2.1" height="2.1" rx="0.55"/><rect x="454.69" y="210.28" width="2.1" height="2.1" rx="0.55"/><rect x="464.66" y="210.28" width="2.1" height="2.1" rx="0.55"/><rect x="474.62" y="210.28" width="2.1" height="2.1" rx="0.55"/><rect x="484.59" y="210.28" width="2.1" height="2.1" rx="0.55"/><rect x="494.56" y="210.28" width="2.1" height="2.1" rx="0.55"/><rect x="504.52" y="210.28" width="2.1" height="2.1" rx="0.55"/><rect x="514.49" y="210.28" width="2.1" height="2.1" rx="0.55"/><rect x="524.45" y="210.28" width="2.1" height="2.1" rx="0.55"/><rect x="534.42" y="210.28" width="2.1" height="2.1" rx="0.55"/><rect x="544.39" y="210.28" width="2.1" height="2.1" rx="0.55"/><rect x="554.35" y="210.28" width="2.1" height="2.1" rx="0.55"/><rect x="564.32" y="210.28" width="2.1" height="2.1" rx="0.55"/><rect x="574.28" y="210.28" width="2.1" height="2.1" rx="0.55"/><rect x="584.25" y="210.28" width="2.1" height="2.1" rx="0.55"/><rect x="85.95" y="222.12" width="2.1" height="2.1" rx="0.55"/><rect x="95.92" y="222.12" width="2.1" height="2.1" rx="0.55"/><rect x="105.88" y="222.12" width="2.1" height="2.1" rx="0.55"/><rect x="115.85" y="222.12" width="2.1" height="2.1" rx="0.55"/><rect x="125.81" y="222.12" width="2.1" height="2.1" rx="0.55"/><rect x="135.78" y="222.12" width="2.1" height="2.1" rx="0.55"/><rect x="145.75" y="222.12" width="2.1" height="2.1" rx="0.55"/><rect x="155.71" y="222.12" width="2.1" height="2.1" rx="0.55"/><rect x="165.68" y="222.12" width="2.1" height="2.1" rx="0.55"/><rect x="175.64" y="222.12" width="2.1" height="2.1" rx="0.55"/><rect x="185.61" y="222.12" width="2.1" height="2.1" rx="0.55"/><rect x="195.58" y="222.12" width="2.1" height="2.1" rx="0.55"/><rect x="205.54" y="222.12" width="2.1" height="2.1" rx="0.55"/><rect x="215.51" y="222.12" width="2.1" height="2.1" rx="0.55"/><rect x="225.47" y="222.12" width="2.1" height="2.1" rx="0.55"/><rect x="235.44" y="222.12" width="2.1" height="2.1" rx="0.55"/><rect x="245.41" y="222.12" width="2.1" height="2.1" rx="0.55"/><rect x="255.37" y="222.12" width="2.1" height="2.1" rx="0.55"/><rect x="265.34" y="222.12" width="2.1" height="2.1" rx="0.55"/><rect x="275.30" y="222.12" width="2.1" height="2.1" rx="0.55"/><rect x="285.27" y="222.12" width="2.1" height="2.1" rx="0.55"/><rect x="295.24" y="222.12" width="2.1" height="2.1" rx="0.55"/><rect x="305.20" y="222.12" width="2.1" height="2.1" rx="0.55"/><rect x="315.17" y="222.12" width="2.1" height="2.1" rx="0.55"/><rect x="325.13" y="222.12" width="2.1" height="2.1" rx="0.55"/><rect x="335.10" y="222.12" width="2.1" height="2.1" rx="0.55"/><rect x="345.07" y="222.12" width="2.1" height="2.1" rx="0.55"/><rect x="355.03" y="222.12" width="2.1" height="2.1" rx="0.55"/><rect x="365.00" y="222.12" width="2.1" height="2.1" rx="0.55"/><rect x="374.96" y="222.12" width="2.1" height="2.1" rx="0.55"/><rect x="384.93" y="222.12" width="2.1" height="2.1" rx="0.55"/><rect x="394.90" y="222.12" width="2.1" height="2.1" rx="0.55"/><rect x="404.86" y="222.12" width="2.1" height="2.1" rx="0.55"/><rect x="414.83" y="222.12" width="2.1" height="2.1" rx="0.55"/><rect x="424.79" y="222.12" width="2.1" height="2.1" rx="0.55"/><rect x="434.76" y="222.12" width="2.1" height="2.1" rx="0.55"/><rect x="444.73" y="222.12" width="2.1" height="2.1" rx="0.55"/><rect x="454.69" y="222.12" width="2.1" height="2.1" rx="0.55"/><rect x="464.66" y="222.12" width="2.1" height="2.1" rx="0.55"/><rect x="474.62" y="222.12" width="2.1" height="2.1" rx="0.55"/><rect x="484.59" y="222.12" width="2.1" height="2.1" rx="0.55"/><rect x="494.56" y="222.12" width="2.1" height="2.1" rx="0.55"/><rect x="504.52" y="222.12" width="2.1" height="2.1" rx="0.55"/><rect x="514.49" y="222.12" width="2.1" height="2.1" rx="0.55"/><rect x="524.45" y="222.12" width="2.1" height="2.1" rx="0.55"/><rect x="534.42" y="222.12" width="2.1" height="2.1" rx="0.55"/><rect x="544.39" y="222.12" width="2.1" height="2.1" rx="0.55"/><rect x="554.35" y="222.12" width="2.1" height="2.1" rx="0.55"/><rect x="564.32" y="222.12" width="2.1" height="2.1" rx="0.55"/><rect x="574.28" y="222.12" width="2.1" height="2.1" rx="0.55"/><rect x="584.25" y="222.12" width="2.1" height="2.1" rx="0.55"/><rect x="85.95" y="233.96" width="2.1" height="2.1" rx="0.55"/><rect x="95.92" y="233.96" width="2.1" height="2.1" rx="0.55"/><rect x="105.88" y="233.96" width="2.1" height="2.1" rx="0.55"/><rect x="115.85" y="233.96" width="2.1" height="2.1" rx="0.55"/><rect x="125.81" y="233.96" width="2.1" height="2.1" rx="0.55"/><rect x="135.78" y="233.96" width="2.1" height="2.1" rx="0.55"/><rect x="145.75" y="233.96" width="2.1" height="2.1" rx="0.55"/><rect x="155.71" y="233.96" width="2.1" height="2.1" rx="0.55"/><rect x="165.68" y="233.96" width="2.1" height="2.1" rx="0.55"/><rect x="175.64" y="233.96" width="2.1" height="2.1" rx="0.55"/><rect x="185.61" y="233.96" width="2.1" height="2.1" rx="0.55"/><rect x="195.58" y="233.96" width="2.1" height="2.1" rx="0.55"/><rect x="205.54" y="233.96" width="2.1" height="2.1" rx="0.55"/><rect x="215.51" y="233.96" width="2.1" height="2.1" rx="0.55"/><rect x="225.47" y="233.96" width="2.1" height="2.1" rx="0.55"/><rect x="235.44" y="233.96" width="2.1" height="2.1" rx="0.55"/><rect x="245.41" y="233.96" width="2.1" height="2.1" rx="0.55"/><rect x="255.37" y="233.96" width="2.1" height="2.1" rx="0.55"/><rect x="265.34" y="233.96" width="2.1" height="2.1" rx="0.55"/><rect x="275.30" y="233.96" width="2.1" height="2.1" rx="0.55"/><rect x="285.27" y="233.96" width="2.1" height="2.1" rx="0.55"/><rect x="295.24" y="233.96" width="2.1" height="2.1" rx="0.55"/><rect x="305.20" y="233.96" width="2.1" height="2.1" rx="0.55"/><rect x="315.17" y="233.96" width="2.1" height="2.1" rx="0.55"/><rect x="325.13" y="233.96" width="2.1" height="2.1" rx="0.55"/><rect x="335.10" y="233.96" width="2.1" height="2.1" rx="0.55"/><rect x="345.07" y="233.96" width="2.1" height="2.1" rx="0.55"/><rect x="355.03" y="233.96" width="2.1" height="2.1" rx="0.55"/><rect x="365.00" y="233.96" width="2.1" height="2.1" rx="0.55"/><rect x="374.96" y="233.96" width="2.1" height="2.1" rx="0.55"/><rect x="384.93" y="233.96" width="2.1" height="2.1" rx="0.55"/><rect x="394.90" y="233.96" width="2.1" height="2.1" rx="0.55"/><rect x="404.86" y="233.96" width="2.1" height="2.1" rx="0.55"/><rect x="414.83" y="233.96" width="2.1" height="2.1" rx="0.55"/><rect x="424.79" y="233.96" width="2.1" height="2.1" rx="0.55"/><rect x="434.76" y="233.96" width="2.1" height="2.1" rx="0.55"/><rect x="444.73" y="233.96" width="2.1" height="2.1" rx="0.55"/><rect x="454.69" y="233.96" width="2.1" height="2.1" rx="0.55"/><rect x="464.66" y="233.96" width="2.1" height="2.1" rx="0.55"/><rect x="474.62" y="233.96" width="2.1" height="2.1" rx="0.55"/><rect x="484.59" y="233.96" width="2.1" height="2.1" rx="0.55"/><rect x="494.56" y="233.96" width="2.1" height="2.1" rx="0.55"/><rect x="504.52" y="233.96" width="2.1" height="2.1" rx="0.55"/><rect x="514.49" y="233.96" width="2.1" height="2.1" rx="0.55"/><rect x="524.45" y="233.96" width="2.1" height="2.1" rx="0.55"/><rect x="534.42" y="233.96" width="2.1" height="2.1" rx="0.55"/><rect x="544.39" y="233.96" width="2.1" height="2.1" rx="0.55"/><rect x="554.35" y="233.96" width="2.1" height="2.1" rx="0.55"/><rect x="564.32" y="233.96" width="2.1" height="2.1" rx="0.55"/><rect x="574.28" y="233.96" width="2.1" height="2.1" rx="0.55"/><rect x="584.25" y="233.96" width="2.1" height="2.1" rx="0.55"/><rect x="85.95" y="245.81" width="2.1" height="2.1" rx="0.55"/><rect x="95.92" y="245.81" width="2.1" height="2.1" rx="0.55"/><rect x="105.88" y="245.81" width="2.1" height="2.1" rx="0.55"/><rect x="115.85" y="245.81" width="2.1" height="2.1" rx="0.55"/><rect x="125.81" y="245.81" width="2.1" height="2.1" rx="0.55"/><rect x="135.78" y="245.81" width="2.1" height="2.1" rx="0.55"/><rect x="145.75" y="245.81" width="2.1" height="2.1" rx="0.55"/><rect x="155.71" y="245.81" width="2.1" height="2.1" rx="0.55"/><rect x="165.68" y="245.81" width="2.1" height="2.1" rx="0.55"/><rect x="175.64" y="245.81" width="2.1" height="2.1" rx="0.55"/><rect x="185.61" y="245.81" width="2.1" height="2.1" rx="0.55"/><rect x="195.58" y="245.81" width="2.1" height="2.1" rx="0.55"/><rect x="205.54" y="245.81" width="2.1" height="2.1" rx="0.55"/><rect x="215.51" y="245.81" width="2.1" height="2.1" rx="0.55"/><rect x="225.47" y="245.81" width="2.1" height="2.1" rx="0.55"/><rect x="235.44" y="245.81" width="2.1" height="2.1" rx="0.55"/><rect x="245.41" y="245.81" width="2.1" height="2.1" rx="0.55"/><rect x="255.37" y="245.81" width="2.1" height="2.1" rx="0.55"/><rect x="265.34" y="245.81" width="2.1" height="2.1" rx="0.55"/><rect x="275.30" y="245.81" width="2.1" height="2.1" rx="0.55"/><rect x="285.27" y="245.81" width="2.1" height="2.1" rx="0.55"/><rect x="295.24" y="245.81" width="2.1" height="2.1" rx="0.55"/><rect x="305.20" y="245.81" width="2.1" height="2.1" rx="0.55"/><rect x="315.17" y="245.81" width="2.1" height="2.1" rx="0.55"/><rect x="325.13" y="245.81" width="2.1" height="2.1" rx="0.55"/><rect x="335.10" y="245.81" width="2.1" height="2.1" rx="0.55"/><rect x="345.07" y="245.81" width="2.1" height="2.1" rx="0.55"/><rect x="355.03" y="245.81" width="2.1" height="2.1" rx="0.55"/><rect x="365.00" y="245.81" width="2.1" height="2.1" rx="0.55"/><rect x="374.96" y="245.81" width="2.1" height="2.1" rx="0.55"/><rect x="384.93" y="245.81" width="2.1" height="2.1" rx="0.55"/><rect x="394.90" y="245.81" width="2.1" height="2.1" rx="0.55"/><rect x="404.86" y="245.81" width="2.1" height="2.1" rx="0.55"/><rect x="414.83" y="245.81" width="2.1" height="2.1" rx="0.55"/><rect x="424.79" y="245.81" width="2.1" height="2.1" rx="0.55"/><rect x="434.76" y="245.81" width="2.1" height="2.1" rx="0.55"/><rect x="444.73" y="245.81" width="2.1" height="2.1" rx="0.55"/><rect x="454.69" y="245.81" width="2.1" height="2.1" rx="0.55"/><rect x="464.66" y="245.81" width="2.1" height="2.1" rx="0.55"/><rect x="474.62" y="245.81" width="2.1" height="2.1" rx="0.55"/><rect x="484.59" y="245.81" width="2.1" height="2.1" rx="0.55"/><rect x="494.56" y="245.81" width="2.1" height="2.1" rx="0.55"/><rect x="504.52" y="245.81" width="2.1" height="2.1" rx="0.55"/><rect x="514.49" y="245.81" width="2.1" height="2.1" rx="0.55"/><rect x="524.45" y="245.81" width="2.1" height="2.1" rx="0.55"/><rect x="534.42" y="245.81" width="2.1" height="2.1" rx="0.55"/><rect x="544.39" y="245.81" width="2.1" height="2.1" rx="0.55"/><rect x="554.35" y="245.81" width="2.1" height="2.1" rx="0.55"/><rect x="564.32" y="245.81" width="2.1" height="2.1" rx="0.55"/><rect x="574.28" y="245.81" width="2.1" height="2.1" rx="0.55"/><rect x="584.25" y="245.81" width="2.1" height="2.1" rx="0.55"/><rect x="85.95" y="257.65" width="2.1" height="2.1" rx="0.55"/><rect x="95.92" y="257.65" width="2.1" height="2.1" rx="0.55"/><rect x="105.88" y="257.65" width="2.1" height="2.1" rx="0.55"/><rect x="115.85" y="257.65" width="2.1" height="2.1" rx="0.55"/><rect x="125.81" y="257.65" width="2.1" height="2.1" rx="0.55"/><rect x="135.78" y="257.65" width="2.1" height="2.1" rx="0.55"/><rect x="145.75" y="257.65" width="2.1" height="2.1" rx="0.55"/><rect x="155.71" y="257.65" width="2.1" height="2.1" rx="0.55"/><rect x="165.68" y="257.65" width="2.1" height="2.1" rx="0.55"/><rect x="175.64" y="257.65" width="2.1" height="2.1" rx="0.55"/><rect x="185.61" y="257.65" width="2.1" height="2.1" rx="0.55"/><rect x="195.58" y="257.65" width="2.1" height="2.1" rx="0.55"/><rect x="205.54" y="257.65" width="2.1" height="2.1" rx="0.55"/><rect x="215.51" y="257.65" width="2.1" height="2.1" rx="0.55"/><rect x="225.47" y="257.65" width="2.1" height="2.1" rx="0.55"/><rect x="235.44" y="257.65" width="2.1" height="2.1" rx="0.55"/><rect x="245.41" y="257.65" width="2.1" height="2.1" rx="0.55"/><rect x="255.37" y="257.65" width="2.1" height="2.1" rx="0.55"/><rect x="265.34" y="257.65" width="2.1" height="2.1" rx="0.55"/><rect x="275.30" y="257.65" width="2.1" height="2.1" rx="0.55"/><rect x="285.27" y="257.65" width="2.1" height="2.1" rx="0.55"/><rect x="295.24" y="257.65" width="2.1" height="2.1" rx="0.55"/><rect x="305.20" y="257.65" width="2.1" height="2.1" rx="0.55"/><rect x="315.17" y="257.65" width="2.1" height="2.1" rx="0.55"/><rect x="325.13" y="257.65" width="2.1" height="2.1" rx="0.55"/><rect x="335.10" y="257.65" width="2.1" height="2.1" rx="0.55"/><rect x="345.07" y="257.65" width="2.1" height="2.1" rx="0.55"/><rect x="355.03" y="257.65" width="2.1" height="2.1" rx="0.55"/><rect x="365.00" y="257.65" width="2.1" height="2.1" rx="0.55"/><rect x="374.96" y="257.65" width="2.1" height="2.1" rx="0.55"/><rect x="384.93" y="257.65" width="2.1" height="2.1" rx="0.55"/><rect x="394.90" y="257.65" width="2.1" height="2.1" rx="0.55"/><rect x="404.86" y="257.65" width="2.1" height="2.1" rx="0.55"/><rect x="414.83" y="257.65" width="2.1" height="2.1" rx="0.55"/><rect x="424.79" y="257.65" width="2.1" height="2.1" rx="0.55"/><rect x="434.76" y="257.65" width="2.1" height="2.1" rx="0.55"/><rect x="444.73" y="257.65" width="2.1" height="2.1" rx="0.55"/><rect x="454.69" y="257.65" width="2.1" height="2.1" rx="0.55"/><rect x="464.66" y="257.65" width="2.1" height="2.1" rx="0.55"/><rect x="474.62" y="257.65" width="2.1" height="2.1" rx="0.55"/><rect x="484.59" y="257.65" width="2.1" height="2.1" rx="0.55"/><rect x="494.56" y="257.65" width="2.1" height="2.1" rx="0.55"/><rect x="504.52" y="257.65" width="2.1" height="2.1" rx="0.55"/><rect x="514.49" y="257.65" width="2.1" height="2.1" rx="0.55"/><rect x="524.45" y="257.65" width="2.1" height="2.1" rx="0.55"/><rect x="534.42" y="257.65" width="2.1" height="2.1" rx="0.55"/><rect x="544.39" y="257.65" width="2.1" height="2.1" rx="0.55"/><rect x="554.35" y="257.65" width="2.1" height="2.1" rx="0.55"/><rect x="564.32" y="257.65" width="2.1" height="2.1" rx="0.55"/><rect x="574.28" y="257.65" width="2.1" height="2.1" rx="0.55"/><rect x="584.25" y="257.65" width="2.1" height="2.1" rx="0.55"/><rect x="95.92" y="269.49" width="2.1" height="2.1" rx="0.55"/><rect x="105.88" y="269.49" width="2.1" height="2.1" rx="0.55"/><rect x="115.85" y="269.49" width="2.1" height="2.1" rx="0.55"/><rect x="125.81" y="269.49" width="2.1" height="2.1" rx="0.55"/><rect x="135.78" y="269.49" width="2.1" height="2.1" rx="0.55"/><rect x="145.75" y="269.49" width="2.1" height="2.1" rx="0.55"/><rect x="155.71" y="269.49" width="2.1" height="2.1" rx="0.55"/><rect x="165.68" y="269.49" width="2.1" height="2.1" rx="0.55"/><rect x="175.64" y="269.49" width="2.1" height="2.1" rx="0.55"/><rect x="185.61" y="269.49" width="2.1" height="2.1" rx="0.55"/><rect x="195.58" y="269.49" width="2.1" height="2.1" rx="0.55"/><rect x="205.54" y="269.49" width="2.1" height="2.1" rx="0.55"/><rect x="215.51" y="269.49" width="2.1" height="2.1" rx="0.55"/><rect x="225.47" y="269.49" width="2.1" height="2.1" rx="0.55"/><rect x="235.44" y="269.49" width="2.1" height="2.1" rx="0.55"/><rect x="245.41" y="269.49" width="2.1" height="2.1" rx="0.55"/><rect x="255.37" y="269.49" width="2.1" height="2.1" rx="0.55"/><rect x="265.34" y="269.49" width="2.1" height="2.1" rx="0.55"/><rect x="275.30" y="269.49" width="2.1" height="2.1" rx="0.55"/><rect x="285.27" y="269.49" width="2.1" height="2.1" rx="0.55"/><rect x="295.24" y="269.49" width="2.1" height="2.1" rx="0.55"/><rect x="305.20" y="269.49" width="2.1" height="2.1" rx="0.55"/><rect x="315.17" y="269.49" width="2.1" height="2.1" rx="0.55"/><rect x="325.13" y="269.49" width="2.1" height="2.1" rx="0.55"/><rect x="335.10" y="269.49" width="2.1" height="2.1" rx="0.55"/><rect x="345.07" y="269.49" width="2.1" height="2.1" rx="0.55"/><rect x="355.03" y="269.49" width="2.1" height="2.1" rx="0.55"/><rect x="365.00" y="269.49" width="2.1" height="2.1" rx="0.55"/><rect x="374.96" y="269.49" width="2.1" height="2.1" rx="0.55"/><rect x="384.93" y="269.49" width="2.1" height="2.1" rx="0.55"/><rect x="394.90" y="269.49" width="2.1" height="2.1" rx="0.55"/><rect x="404.86" y="269.49" width="2.1" height="2.1" rx="0.55"/><rect x="414.83" y="269.49" width="2.1" height="2.1" rx="0.55"/><rect x="424.79" y="269.49" width="2.1" height="2.1" rx="0.55"/><rect x="434.76" y="269.49" width="2.1" height="2.1" rx="0.55"/><rect x="444.73" y="269.49" width="2.1" height="2.1" rx="0.55"/><rect x="454.69" y="269.49" width="2.1" height="2.1" rx="0.55"/><rect x="464.66" y="269.49" width="2.1" height="2.1" rx="0.55"/><rect x="474.62" y="269.49" width="2.1" height="2.1" rx="0.55"/><rect x="484.59" y="269.49" width="2.1" height="2.1" rx="0.55"/><rect x="494.56" y="269.49" width="2.1" height="2.1" rx="0.55"/><rect x="504.52" y="269.49" width="2.1" height="2.1" rx="0.55"/><rect x="514.49" y="269.49" width="2.1" height="2.1" rx="0.55"/><rect x="524.45" y="269.49" width="2.1" height="2.1" rx="0.55"/><rect x="534.42" y="269.49" width="2.1" height="2.1" rx="0.55"/><rect x="544.39" y="269.49" width="2.1" height="2.1" rx="0.55"/><rect x="554.35" y="269.49" width="2.1" height="2.1" rx="0.55"/><rect x="564.32" y="269.49" width="2.1" height="2.1" rx="0.55"/><rect x="574.28" y="269.49" width="2.1" height="2.1" rx="0.55"/><rect x="584.25" y="269.49" width="2.1" height="2.1" rx="0.55"/><rect x="85.95" y="281.34" width="2.1" height="2.1" rx="0.55"/><rect x="95.92" y="281.34" width="2.1" height="2.1" rx="0.55"/><rect x="105.88" y="281.34" width="2.1" height="2.1" rx="0.55"/><rect x="115.85" y="281.34" width="2.1" height="2.1" rx="0.55"/><rect x="125.81" y="281.34" width="2.1" height="2.1" rx="0.55"/><rect x="135.78" y="281.34" width="2.1" height="2.1" rx="0.55"/><rect x="145.75" y="281.34" width="2.1" height="2.1" rx="0.55"/><rect x="155.71" y="281.34" width="2.1" height="2.1" rx="0.55"/><rect x="165.68" y="281.34" width="2.1" height="2.1" rx="0.55"/><rect x="175.64" y="281.34" width="2.1" height="2.1" rx="0.55"/><rect x="185.61" y="281.34" width="2.1" height="2.1" rx="0.55"/><rect x="195.58" y="281.34" width="2.1" height="2.1" rx="0.55"/><rect x="205.54" y="281.34" width="2.1" height="2.1" rx="0.55"/><rect x="215.51" y="281.34" width="2.1" height="2.1" rx="0.55"/><rect x="225.47" y="281.34" width="2.1" height="2.1" rx="0.55"/><rect x="235.44" y="281.34" width="2.1" height="2.1" rx="0.55"/><rect x="245.41" y="281.34" width="2.1" height="2.1" rx="0.55"/><rect x="255.37" y="281.34" width="2.1" height="2.1" rx="0.55"/><rect x="265.34" y="281.34" width="2.1" height="2.1" rx="0.55"/><rect x="275.30" y="281.34" width="2.1" height="2.1" rx="0.55"/><rect x="285.27" y="281.34" width="2.1" height="2.1" rx="0.55"/><rect x="295.24" y="281.34" width="2.1" height="2.1" rx="0.55"/><rect x="305.20" y="281.34" width="2.1" height="2.1" rx="0.55"/><rect x="315.17" y="281.34" width="2.1" height="2.1" rx="0.55"/><rect x="325.13" y="281.34" width="2.1" height="2.1" rx="0.55"/><rect x="335.10" y="281.34" width="2.1" height="2.1" rx="0.55"/><rect x="345.07" y="281.34" width="2.1" height="2.1" rx="0.55"/><rect x="355.03" y="281.34" width="2.1" height="2.1" rx="0.55"/><rect x="365.00" y="281.34" width="2.1" height="2.1" rx="0.55"/><rect x="374.96" y="281.34" width="2.1" height="2.1" rx="0.55"/><rect x="384.93" y="281.34" width="2.1" height="2.1" rx="0.55"/><rect x="394.90" y="281.34" width="2.1" height="2.1" rx="0.55"/><rect x="404.86" y="281.34" width="2.1" height="2.1" rx="0.55"/><rect x="414.83" y="281.34" width="2.1" height="2.1" rx="0.55"/><rect x="424.79" y="281.34" width="2.1" height="2.1" rx="0.55"/><rect x="434.76" y="281.34" width="2.1" height="2.1" rx="0.55"/><rect x="444.73" y="281.34" width="2.1" height="2.1" rx="0.55"/><rect x="454.69" y="281.34" width="2.1" height="2.1" rx="0.55"/><rect x="464.66" y="281.34" width="2.1" height="2.1" rx="0.55"/><rect x="474.62" y="281.34" width="2.1" height="2.1" rx="0.55"/><rect x="484.59" y="281.34" width="2.1" height="2.1" rx="0.55"/><rect x="494.56" y="281.34" width="2.1" height="2.1" rx="0.55"/><rect x="504.52" y="281.34" width="2.1" height="2.1" rx="0.55"/><rect x="514.49" y="281.34" width="2.1" height="2.1" rx="0.55"/><rect x="524.45" y="281.34" width="2.1" height="2.1" rx="0.55"/><rect x="534.42" y="281.34" width="2.1" height="2.1" rx="0.55"/><rect x="544.39" y="281.34" width="2.1" height="2.1" rx="0.55"/><rect x="554.35" y="281.34" width="2.1" height="2.1" rx="0.55"/><rect x="564.32" y="281.34" width="2.1" height="2.1" rx="0.55"/><rect x="574.28" y="281.34" width="2.1" height="2.1" rx="0.55"/><rect x="584.25" y="281.34" width="2.1" height="2.1" rx="0.55"/><rect x="85.95" y="293.18" width="2.1" height="2.1" rx="0.55"/><rect x="95.92" y="293.18" width="2.1" height="2.1" rx="0.55"/><rect x="105.88" y="293.18" width="2.1" height="2.1" rx="0.55"/><rect x="115.85" y="293.18" width="2.1" height="2.1" rx="0.55"/><rect x="125.81" y="293.18" width="2.1" height="2.1" rx="0.55"/><rect x="135.78" y="293.18" width="2.1" height="2.1" rx="0.55"/><rect x="145.75" y="293.18" width="2.1" height="2.1" rx="0.55"/><rect x="155.71" y="293.18" width="2.1" height="2.1" rx="0.55"/><rect x="165.68" y="293.18" width="2.1" height="2.1" rx="0.55"/><rect x="175.64" y="293.18" width="2.1" height="2.1" rx="0.55"/><rect x="185.61" y="293.18" width="2.1" height="2.1" rx="0.55"/><rect x="195.58" y="293.18" width="2.1" height="2.1" rx="0.55"/><rect x="205.54" y="293.18" width="2.1" height="2.1" rx="0.55"/><rect x="215.51" y="293.18" width="2.1" height="2.1" rx="0.55"/><rect x="225.47" y="293.18" width="2.1" height="2.1" rx="0.55"/><rect x="235.44" y="293.18" width="2.1" height="2.1" rx="0.55"/><rect x="245.41" y="293.18" width="2.1" height="2.1" rx="0.55"/><rect x="255.37" y="293.18" width="2.1" height="2.1" rx="0.55"/><rect x="265.34" y="293.18" width="2.1" height="2.1" rx="0.55"/><rect x="275.30" y="293.18" width="2.1" height="2.1" rx="0.55"/><rect x="285.27" y="293.18" width="2.1" height="2.1" rx="0.55"/><rect x="295.24" y="293.18" width="2.1" height="2.1" rx="0.55"/><rect x="305.20" y="293.18" width="2.1" height="2.1" rx="0.55"/><rect x="315.17" y="293.18" width="2.1" height="2.1" rx="0.55"/><rect x="325.13" y="293.18" width="2.1" height="2.1" rx="0.55"/><rect x="335.10" y="293.18" width="2.1" height="2.1" rx="0.55"/><rect x="345.07" y="293.18" width="2.1" height="2.1" rx="0.55"/><rect x="355.03" y="293.18" width="2.1" height="2.1" rx="0.55"/><rect x="365.00" y="293.18" width="2.1" height="2.1" rx="0.55"/><rect x="374.96" y="293.18" width="2.1" height="2.1" rx="0.55"/><rect x="384.93" y="293.18" width="2.1" height="2.1" rx="0.55"/><rect x="394.90" y="293.18" width="2.1" height="2.1" rx="0.55"/><rect x="404.86" y="293.18" width="2.1" height="2.1" rx="0.55"/><rect x="414.83" y="293.18" width="2.1" height="2.1" rx="0.55"/><rect x="424.79" y="293.18" width="2.1" height="2.1" rx="0.55"/><rect x="434.76" y="293.18" width="2.1" height="2.1" rx="0.55"/><rect x="444.73" y="293.18" width="2.1" height="2.1" rx="0.55"/><rect x="454.69" y="293.18" width="2.1" height="2.1" rx="0.55"/><rect x="464.66" y="293.18" width="2.1" height="2.1" rx="0.55"/><rect x="474.62" y="293.18" width="2.1" height="2.1" rx="0.55"/><rect x="484.59" y="293.18" width="2.1" height="2.1" rx="0.55"/><rect x="494.56" y="293.18" width="2.1" height="2.1" rx="0.55"/><rect x="504.52" y="293.18" width="2.1" height="2.1" rx="0.55"/><rect x="514.49" y="293.18" width="2.1" height="2.1" rx="0.55"/><rect x="524.45" y="293.18" width="2.1" height="2.1" rx="0.55"/><rect x="534.42" y="293.18" width="2.1" height="2.1" rx="0.55"/><rect x="544.39" y="293.18" width="2.1" height="2.1" rx="0.55"/><rect x="554.35" y="293.18" width="2.1" height="2.1" rx="0.55"/><rect x="564.32" y="293.18" width="2.1" height="2.1" rx="0.55"/><rect x="574.28" y="293.18" width="2.1" height="2.1" rx="0.55"/><rect x="584.25" y="293.18" width="2.1" height="2.1" rx="0.55"/><rect x="85.95" y="305.02" width="2.1" height="2.1" rx="0.55"/><rect x="95.92" y="305.02" width="2.1" height="2.1" rx="0.55"/><rect x="105.88" y="305.02" width="2.1" height="2.1" rx="0.55"/><rect x="115.85" y="305.02" width="2.1" height="2.1" rx="0.55"/><rect x="125.81" y="305.02" width="2.1" height="2.1" rx="0.55"/><rect x="135.78" y="305.02" width="2.1" height="2.1" rx="0.55"/><rect x="145.75" y="305.02" width="2.1" height="2.1" rx="0.55"/><rect x="155.71" y="305.02" width="2.1" height="2.1" rx="0.55"/><rect x="165.68" y="305.02" width="2.1" height="2.1" rx="0.55"/><rect x="175.64" y="305.02" width="2.1" height="2.1" rx="0.55"/><rect x="185.61" y="305.02" width="2.1" height="2.1" rx="0.55"/><rect x="195.58" y="305.02" width="2.1" height="2.1" rx="0.55"/><rect x="205.54" y="305.02" width="2.1" height="2.1" rx="0.55"/><rect x="215.51" y="305.02" width="2.1" height="2.1" rx="0.55"/><rect x="225.47" y="305.02" width="2.1" height="2.1" rx="0.55"/><rect x="235.44" y="305.02" width="2.1" height="2.1" rx="0.55"/><rect x="245.41" y="305.02" width="2.1" height="2.1" rx="0.55"/><rect x="255.37" y="305.02" width="2.1" height="2.1" rx="0.55"/><rect x="265.34" y="305.02" width="2.1" height="2.1" rx="0.55"/><rect x="275.30" y="305.02" width="2.1" height="2.1" rx="0.55"/><rect x="285.27" y="305.02" width="2.1" height="2.1" rx="0.55"/><rect x="295.24" y="305.02" width="2.1" height="2.1" rx="0.55"/><rect x="305.20" y="305.02" width="2.1" height="2.1" rx="0.55"/><rect x="315.17" y="305.02" width="2.1" height="2.1" rx="0.55"/><rect x="325.13" y="305.02" width="2.1" height="2.1" rx="0.55"/><rect x="335.10" y="305.02" width="2.1" height="2.1" rx="0.55"/><rect x="345.07" y="305.02" width="2.1" height="2.1" rx="0.55"/><rect x="355.03" y="305.02" width="2.1" height="2.1" rx="0.55"/><rect x="365.00" y="305.02" width="2.1" height="2.1" rx="0.55"/><rect x="374.96" y="305.02" width="2.1" height="2.1" rx="0.55"/><rect x="384.93" y="305.02" width="2.1" height="2.1" rx="0.55"/><rect x="394.90" y="305.02" width="2.1" height="2.1" rx="0.55"/><rect x="404.86" y="305.02" width="2.1" height="2.1" rx="0.55"/><rect x="414.83" y="305.02" width="2.1" height="2.1" rx="0.55"/><rect x="424.79" y="305.02" width="2.1" height="2.1" rx="0.55"/><rect x="434.76" y="305.02" width="2.1" height="2.1" rx="0.55"/><rect x="444.73" y="305.02" width="2.1" height="2.1" rx="0.55"/><rect x="454.69" y="305.02" width="2.1" height="2.1" rx="0.55"/><rect x="464.66" y="305.02" width="2.1" height="2.1" rx="0.55"/><rect x="474.62" y="305.02" width="2.1" height="2.1" rx="0.55"/><rect x="484.59" y="305.02" width="2.1" height="2.1" rx="0.55"/><rect x="494.56" y="305.02" width="2.1" height="2.1" rx="0.55"/><rect x="504.52" y="305.02" width="2.1" height="2.1" rx="0.55"/><rect x="514.49" y="305.02" width="2.1" height="2.1" rx="0.55"/><rect x="524.45" y="305.02" width="2.1" height="2.1" rx="0.55"/><rect x="534.42" y="305.02" width="2.1" height="2.1" rx="0.55"/><rect x="544.39" y="305.02" width="2.1" height="2.1" rx="0.55"/><rect x="554.35" y="305.02" width="2.1" height="2.1" rx="0.55"/><rect x="564.32" y="305.02" width="2.1" height="2.1" rx="0.55"/><rect x="574.28" y="305.02" width="2.1" height="2.1" rx="0.55"/><rect x="584.25" y="305.02" width="2.1" height="2.1" rx="0.55"/><rect x="85.95" y="316.86" width="2.1" height="2.1" rx="0.55"/><rect x="95.92" y="316.86" width="2.1" height="2.1" rx="0.55"/><rect x="105.88" y="316.86" width="2.1" height="2.1" rx="0.55"/><rect x="115.85" y="316.86" width="2.1" height="2.1" rx="0.55"/><rect x="125.81" y="316.86" width="2.1" height="2.1" rx="0.55"/><rect x="135.78" y="316.86" width="2.1" height="2.1" rx="0.55"/><rect x="145.75" y="316.86" width="2.1" height="2.1" rx="0.55"/><rect x="155.71" y="316.86" width="2.1" height="2.1" rx="0.55"/><rect x="165.68" y="316.86" width="2.1" height="2.1" rx="0.55"/><rect x="175.64" y="316.86" width="2.1" height="2.1" rx="0.55"/><rect x="185.61" y="316.86" width="2.1" height="2.1" rx="0.55"/><rect x="195.58" y="316.86" width="2.1" height="2.1" rx="0.55"/><rect x="205.54" y="316.86" width="2.1" height="2.1" rx="0.55"/><rect x="215.51" y="316.86" width="2.1" height="2.1" rx="0.55"/><rect x="225.47" y="316.86" width="2.1" height="2.1" rx="0.55"/><rect x="235.44" y="316.86" width="2.1" height="2.1" rx="0.55"/><rect x="245.41" y="316.86" width="2.1" height="2.1" rx="0.55"/><rect x="255.37" y="316.86" width="2.1" height="2.1" rx="0.55"/><rect x="265.34" y="316.86" width="2.1" height="2.1" rx="0.55"/><rect x="275.30" y="316.86" width="2.1" height="2.1" rx="0.55"/><rect x="285.27" y="316.86" width="2.1" height="2.1" rx="0.55"/><rect x="295.24" y="316.86" width="2.1" height="2.1" rx="0.55"/><rect x="305.20" y="316.86" width="2.1" height="2.1" rx="0.55"/><rect x="315.17" y="316.86" width="2.1" height="2.1" rx="0.55"/><rect x="325.13" y="316.86" width="2.1" height="2.1" rx="0.55"/><rect x="335.10" y="316.86" width="2.1" height="2.1" rx="0.55"/><rect x="345.07" y="316.86" width="2.1" height="2.1" rx="0.55"/><rect x="355.03" y="316.86" width="2.1" height="2.1" rx="0.55"/><rect x="365.00" y="316.86" width="2.1" height="2.1" rx="0.55"/><rect x="374.96" y="316.86" width="2.1" height="2.1" rx="0.55"/><rect x="384.93" y="316.86" width="2.1" height="2.1" rx="0.55"/><rect x="394.90" y="316.86" width="2.1" height="2.1" rx="0.55"/><rect x="404.86" y="316.86" width="2.1" height="2.1" rx="0.55"/><rect x="414.83" y="316.86" width="2.1" height="2.1" rx="0.55"/><rect x="424.79" y="316.86" width="2.1" height="2.1" rx="0.55"/><rect x="434.76" y="316.86" width="2.1" height="2.1" rx="0.55"/><rect x="444.73" y="316.86" width="2.1" height="2.1" rx="0.55"/><rect x="454.69" y="316.86" width="2.1" height="2.1" rx="0.55"/><rect x="464.66" y="316.86" width="2.1" height="2.1" rx="0.55"/><rect x="474.62" y="316.86" width="2.1" height="2.1" rx="0.55"/><rect x="484.59" y="316.86" width="2.1" height="2.1" rx="0.55"/><rect x="494.56" y="316.86" width="2.1" height="2.1" rx="0.55"/><rect x="504.52" y="316.86" width="2.1" height="2.1" rx="0.55"/><rect x="514.49" y="316.86" width="2.1" height="2.1" rx="0.55"/><rect x="524.45" y="316.86" width="2.1" height="2.1" rx="0.55"/><rect x="534.42" y="316.86" width="2.1" height="2.1" rx="0.55"/><rect x="544.39" y="316.86" width="2.1" height="2.1" rx="0.55"/><rect x="554.35" y="316.86" width="2.1" height="2.1" rx="0.55"/><rect x="564.32" y="316.86" width="2.1" height="2.1" rx="0.55"/><rect x="574.28" y="316.86" width="2.1" height="2.1" rx="0.55"/><rect x="584.25" y="316.86" width="2.1" height="2.1" rx="0.55"/><rect x="95.92" y="328.71" width="2.1" height="2.1" rx="0.55"/><rect x="105.88" y="328.71" width="2.1" height="2.1" rx="0.55"/><rect x="115.85" y="328.71" width="2.1" height="2.1" rx="0.55"/><rect x="125.81" y="328.71" width="2.1" height="2.1" rx="0.55"/><rect x="135.78" y="328.71" width="2.1" height="2.1" rx="0.55"/><rect x="145.75" y="328.71" width="2.1" height="2.1" rx="0.55"/><rect x="155.71" y="328.71" width="2.1" height="2.1" rx="0.55"/><rect x="165.68" y="328.71" width="2.1" height="2.1" rx="0.55"/><rect x="175.64" y="328.71" width="2.1" height="2.1" rx="0.55"/><rect x="185.61" y="328.71" width="2.1" height="2.1" rx="0.55"/><rect x="195.58" y="328.71" width="2.1" height="2.1" rx="0.55"/><rect x="205.54" y="328.71" width="2.1" height="2.1" rx="0.55"/><rect x="215.51" y="328.71" width="2.1" height="2.1" rx="0.55"/><rect x="225.47" y="328.71" width="2.1" height="2.1" rx="0.55"/><rect x="235.44" y="328.71" width="2.1" height="2.1" rx="0.55"/><rect x="245.41" y="328.71" width="2.1" height="2.1" rx="0.55"/><rect x="255.37" y="328.71" width="2.1" height="2.1" rx="0.55"/><rect x="265.34" y="328.71" width="2.1" height="2.1" rx="0.55"/><rect x="275.30" y="328.71" width="2.1" height="2.1" rx="0.55"/><rect x="285.27" y="328.71" width="2.1" height="2.1" rx="0.55"/><rect x="295.24" y="328.71" width="2.1" height="2.1" rx="0.55"/><rect x="305.20" y="328.71" width="2.1" height="2.1" rx="0.55"/><rect x="315.17" y="328.71" width="2.1" height="2.1" rx="0.55"/><rect x="325.13" y="328.71" width="2.1" height="2.1" rx="0.55"/><rect x="335.10" y="328.71" width="2.1" height="2.1" rx="0.55"/><rect x="345.07" y="328.71" width="2.1" height="2.1" rx="0.55"/><rect x="355.03" y="328.71" width="2.1" height="2.1" rx="0.55"/><rect x="365.00" y="328.71" width="2.1" height="2.1" rx="0.55"/><rect x="374.96" y="328.71" width="2.1" height="2.1" rx="0.55"/><rect x="384.93" y="328.71" width="2.1" height="2.1" rx="0.55"/><rect x="394.90" y="328.71" width="2.1" height="2.1" rx="0.55"/><rect x="404.86" y="328.71" width="2.1" height="2.1" rx="0.55"/><rect x="414.83" y="328.71" width="2.1" height="2.1" rx="0.55"/><rect x="424.79" y="328.71" width="2.1" height="2.1" rx="0.55"/><rect x="434.76" y="328.71" width="2.1" height="2.1" rx="0.55"/><rect x="444.73" y="328.71" width="2.1" height="2.1" rx="0.55"/><rect x="454.69" y="328.71" width="2.1" height="2.1" rx="0.55"/><rect x="464.66" y="328.71" width="2.1" height="2.1" rx="0.55"/><rect x="474.62" y="328.71" width="2.1" height="2.1" rx="0.55"/><rect x="484.59" y="328.71" width="2.1" height="2.1" rx="0.55"/><rect x="494.56" y="328.71" width="2.1" height="2.1" rx="0.55"/><rect x="504.52" y="328.71" width="2.1" height="2.1" rx="0.55"/><rect x="514.49" y="328.71" width="2.1" height="2.1" rx="0.55"/><rect x="524.45" y="328.71" width="2.1" height="2.1" rx="0.55"/><rect x="534.42" y="328.71" width="2.1" height="2.1" rx="0.55"/><rect x="544.39" y="328.71" width="2.1" height="2.1" rx="0.55"/><rect x="554.35" y="328.71" width="2.1" height="2.1" rx="0.55"/><rect x="564.32" y="328.71" width="2.1" height="2.1" rx="0.55"/><rect x="574.28" y="328.71" width="2.1" height="2.1" rx="0.55"/><rect x="584.25" y="328.71" width="2.1" height="2.1" rx="0.55"/><rect x="85.95" y="340.55" width="2.1" height="2.1" rx="0.55"/><rect x="95.92" y="340.55" width="2.1" height="2.1" rx="0.55"/><rect x="105.88" y="340.55" width="2.1" height="2.1" rx="0.55"/><rect x="115.85" y="340.55" width="2.1" height="2.1" rx="0.55"/><rect x="125.81" y="340.55" width="2.1" height="2.1" rx="0.55"/><rect x="135.78" y="340.55" width="2.1" height="2.1" rx="0.55"/><rect x="145.75" y="340.55" width="2.1" height="2.1" rx="0.55"/><rect x="155.71" y="340.55" width="2.1" height="2.1" rx="0.55"/><rect x="165.68" y="340.55" width="2.1" height="2.1" rx="0.55"/><rect x="175.64" y="340.55" width="2.1" height="2.1" rx="0.55"/><rect x="185.61" y="340.55" width="2.1" height="2.1" rx="0.55"/><rect x="195.58" y="340.55" width="2.1" height="2.1" rx="0.55"/><rect x="205.54" y="340.55" width="2.1" height="2.1" rx="0.55"/><rect x="215.51" y="340.55" width="2.1" height="2.1" rx="0.55"/><rect x="225.47" y="340.55" width="2.1" height="2.1" rx="0.55"/><rect x="235.44" y="340.55" width="2.1" height="2.1" rx="0.55"/><rect x="245.41" y="340.55" width="2.1" height="2.1" rx="0.55"/><rect x="255.37" y="340.55" width="2.1" height="2.1" rx="0.55"/><rect x="265.34" y="340.55" width="2.1" height="2.1" rx="0.55"/><rect x="275.30" y="340.55" width="2.1" height="2.1" rx="0.55"/><rect x="285.27" y="340.55" width="2.1" height="2.1" rx="0.55"/><rect x="295.24" y="340.55" width="2.1" height="2.1" rx="0.55"/><rect x="305.20" y="340.55" width="2.1" height="2.1" rx="0.55"/><rect x="315.17" y="340.55" width="2.1" height="2.1" rx="0.55"/><rect x="325.13" y="340.55" width="2.1" height="2.1" rx="0.55"/><rect x="335.10" y="340.55" width="2.1" height="2.1" rx="0.55"/><rect x="345.07" y="340.55" width="2.1" height="2.1" rx="0.55"/><rect x="355.03" y="340.55" width="2.1" height="2.1" rx="0.55"/><rect x="365.00" y="340.55" width="2.1" height="2.1" rx="0.55"/><rect x="374.96" y="340.55" width="2.1" height="2.1" rx="0.55"/><rect x="384.93" y="340.55" width="2.1" height="2.1" rx="0.55"/><rect x="394.90" y="340.55" width="2.1" height="2.1" rx="0.55"/><rect x="404.86" y="340.55" width="2.1" height="2.1" rx="0.55"/><rect x="414.83" y="340.55" width="2.1" height="2.1" rx="0.55"/><rect x="424.79" y="340.55" width="2.1" height="2.1" rx="0.55"/><rect x="434.76" y="340.55" width="2.1" height="2.1" rx="0.55"/><rect x="444.73" y="340.55" width="2.1" height="2.1" rx="0.55"/><rect x="454.69" y="340.55" width="2.1" height="2.1" rx="0.55"/><rect x="464.66" y="340.55" width="2.1" height="2.1" rx="0.55"/><rect x="474.62" y="340.55" width="2.1" height="2.1" rx="0.55"/><rect x="484.59" y="340.55" width="2.1" height="2.1" rx="0.55"/><rect x="494.56" y="340.55" width="2.1" height="2.1" rx="0.55"/><rect x="504.52" y="340.55" width="2.1" height="2.1" rx="0.55"/><rect x="514.49" y="340.55" width="2.1" height="2.1" rx="0.55"/><rect x="524.45" y="340.55" width="2.1" height="2.1" rx="0.55"/><rect x="534.42" y="340.55" width="2.1" height="2.1" rx="0.55"/><rect x="544.39" y="340.55" width="2.1" height="2.1" rx="0.55"/><rect x="554.35" y="340.55" width="2.1" height="2.1" rx="0.55"/><rect x="564.32" y="340.55" width="2.1" height="2.1" rx="0.55"/><rect x="574.28" y="340.55" width="2.1" height="2.1" rx="0.55"/><rect x="584.25" y="340.55" width="2.1" height="2.1" rx="0.55"/></g>
<g stroke="#0c0c0c" stroke-width="1.9" fill="none"><path d="M76.8,10.0 H82.2"/><path d="M76.8,21.8 H82.2"/><path d="M76.8,33.7 H88" stroke-width="1.6"/><path d="M76.8,45.5 H82.2"/><path d="M76.8,57.4 H82.2"/><path d="M76.8,69.2 H82.2"/><path d="M76.8,81.1 H82.2"/><path d="M76.8,92.7 Q82.5,93.8 88.3,92.0" stroke-width="1.8"/><path d="M76.8,104.7 H82.2"/><path d="M76.8,116.6 H82.2"/><path d="M76.8,128.4 H82.2"/><path d="M76.8,140.3 H88" stroke-width="1.6"/><path d="M76.8,152.1 H82.2"/><path d="M76.8,164.0 H82.2"/><path d="M76.8,175.8 H82.2"/><path d="M76.8,187.6 H82.2"/><path d="M76.8,199.5 H82.2"/><path d="M76.8,211.3 H88" stroke-width="1.6"/><path d="M76.8,223.2 H82.2"/><path d="M76.8,235.0 H82.2"/><path d="M76.8,246.9 H82.2"/><path d="M76.8,258.7 H82.2"/><path d="M76.8,270.5 H88" stroke-width="1.2"/><path d="M76.8,282.4 H82.2"/><path d="M76.8,294.2 H82.2"/><path d="M76.8,306.1 H82.2"/><path d="M76.8,317.9 H82.2"/><path d="M76.8,329.8 H88" stroke-width="1.2"/><path d="M76.8,341.6 H82.2"/><path d="M76.8,353.4 H82.2"/></g>
<g stroke="#0c0c0c" stroke-width="1.45" fill="none"><path d="M104.25,357.2 V351.6"/><path d="M130.00,357.2 V351.6"/><path d="M156.25,357.2 V351.6"/><path d="M181.75,357.2 V351.6"/><path d="M206.75,357.2 V348.3"/><path d="M230.00,357.2 V351.6"/><path d="M255.75,357.2 V351.6"/><path d="M282.50,357.2 V351.6"/><path d="M308.00,357.2 V351.6"/><path d="M333.25,357.2 V348.3"/><path d="M355.50,357.2 V351.6"/><path d="M381.25,357.2 V351.6"/><path d="M408.00,357.2 V351.6"/><path d="M433.75,357.2 V351.6"/><path d="M457.50,357.2 V348.3"/><path d="M483.00,357.2 V351.6"/><path d="M508.75,357.2 V351.6"/><path d="M535.75,357.2 V351.6"/><path d="M561.25,357.2 V351.6"/><path d="M586.25,357.2 V348.3"/></g>
<path d="M76.55,0 V357 H586.9" stroke="#0c0c0c" stroke-width="1.35" fill="none"/>
<g stroke="#0c0c0c" stroke-width="1.75" fill="none" stroke-linecap="butt">
<path d="M76.8,277.2 L81.1,275.7 L85.3,274.3 L89.6,272.9 L93.8,271.4 L98.1,269.9 L102.3,268.4 L106.6,267.0 L110.8,265.5 L115.1,264.0 L119.3,262.6 L123.6,261.1 L127.8,259.6 L132.1,258.1 L136.3,256.7 L140.6,255.2 L144.8,253.7 L149.1,252.2 L153.3,250.7 L157.6,249.1 L161.8,247.6 L166.1,246.1 L170.3,244.5 L174.6,242.9 L178.8,241.3 L183.1,239.7 L187.3,238.1 L191.6,236.5 L195.8,234.9 L200.1,233.3 L204.3,231.6 L208.6,229.9 L212.8,228.3 L217.1,226.6 L221.3,224.9 L225.6,223.2 L229.8,221.4 L234.1,219.7 L238.3,217.9 L242.6,216.2 L246.8,214.4 L251.1,212.6 L255.3,210.8 L259.6,209.0 L263.8,207.1 L268.1,205.3 L272.3,203.4 L276.6,201.5 L280.8,199.6 L285.1,197.7 L289.3,195.8 L293.6,193.9 L297.8,191.9 L302.1,189.9 L306.3,187.9 L310.6,185.9 L314.8,183.9 L319.1,181.8 L323.3,179.8 L327.6,177.7 L331.8,175.6 L336.1,173.4 L340.3,171.3 L344.6,169.1 L348.8,166.9 L353.1,164.7 L357.3,162.5 L361.6,160.3 L365.8,158.0 L370.1,155.8 L374.3,153.5 L378.6,151.1 L382.8,148.8 L387.1,146.4 L391.3,144.1 L395.6,141.7 L399.8,139.2 L404.1,136.8 L408.3,134.3 L412.6,131.9 L416.8,129.3 L421.1,126.8 L425.3,124.3 L429.6,121.7 L433.8,119.1 L438.1,116.5 L442.3,113.9 L446.6,111.3 L450.8,108.6 L455.1,106.0 L459.3,103.3 L463.6,100.6 L467.8,97.8 L472.1,95.1 L476.3,92.3 L480.6,89.5 L484.8,86.7 L489.1,83.8 L493.3,81.0 L497.6,78.1 L501.8,75.2 L506.1,72.3 L510.3,69.4 L514.6,66.5 L518.8,63.5 L523.1,60.5 L527.3,57.5 L531.6,54.5 L535.8,51.4 L540.1,48.3 L544.3,45.1 L548.6,41.9 L552.8,38.7 L557.1,35.4 L561.3,32.1 L565.6,28.7 L569.8,25.4 L574.1,22.0 L578.3,18.6 L582.6,15.2"/><path d="M76.8,310.1 L81.0,308.9 L85.3,307.8 L89.5,306.6 L93.8,305.4 L98.0,304.2 L102.3,303.0 L106.5,301.8 L110.7,300.6 L115.0,299.3 L119.2,298.1 L123.5,296.8 L127.7,295.6 L131.9,294.3 L136.2,293.1 L140.4,291.8 L144.7,290.5 L148.9,289.2 L153.2,287.9 L157.4,286.6 L161.6,285.3 L165.9,283.9 L170.1,282.6 L174.4,281.2 L178.6,279.9 L182.9,278.5 L187.1,277.2 L191.3,275.8 L195.6,274.4 L199.8,273.0 L204.1,271.6 L208.3,270.2 L212.5,268.8 L216.8,267.4 L221.0,266.0 L225.3,264.5 L229.5,263.1 L233.8,261.6 L238.0,260.1 L242.2,258.7 L246.5,257.2 L250.7,255.7 L255.0,254.2 L259.2,252.6 L263.4,251.1 L267.7,249.6 L271.9,248.0 L276.2,246.4 L280.4,244.9 L284.7,243.3 L288.9,241.7 L293.1,240.1 L297.4,238.4 L301.6,236.8 L305.9,235.1 L310.1,233.5 L314.4,231.8 L318.6,230.1 L322.8,228.4 L327.1,226.6 L331.3,224.9 L335.6,223.1 L339.8,221.4 L344.0,219.6 L348.3,217.8 L352.5,216.0 L356.8,214.1 L361.0,212.3 L365.3,210.5 L369.5,208.6 L373.7,206.7 L378.0,204.8 L382.2,202.9 L386.5,201.0 L390.7,199.0 L395.0,197.1 L399.2,195.1 L403.4,193.1 L407.7,191.1 L411.9,189.1 L416.2,187.1 L420.4,185.1 L424.6,183.1 L428.9,181.0 L433.1,179.0 L437.4,176.9 L441.6,174.8 L445.9,172.8 L450.1,170.7 L454.3,168.6 L458.6,166.5 L462.8,164.3 L467.1,162.2 L471.3,160.0 L475.5,157.9 L479.8,155.7 L484.0,153.5 L488.3,151.3 L492.5,149.1 L496.8,146.8 L501.0,144.6 L505.2,142.3 L509.5,140.0 L513.7,137.7 L518.0,135.4 L522.2,133.1 L526.5,130.7 L530.7,128.4 L534.9,126.0 L539.2,123.6 L543.4,121.2 L547.7,118.8 L551.9,116.3 L556.1,113.9 L560.4,111.4 L564.6,108.9 L568.9,106.4 L573.1,103.9 L577.4,101.3 L581.6,98.7"/><path d="M76.8,329.1 L81.0,328.2 L85.3,327.2 L89.5,326.3 L93.8,325.3 L98.0,324.3 L102.3,323.3 L106.5,322.3 L110.8,321.3 L115.0,320.2 L119.3,319.2 L123.5,318.1 L127.8,317.1 L132.0,316.0 L136.3,314.9 L140.5,313.8 L144.8,312.7 L149.0,311.6 L153.3,310.5 L157.5,309.3 L161.8,308.2 L166.0,307.0 L170.3,305.9 L174.5,304.7 L178.8,303.5 L183.0,302.3 L187.3,301.1 L191.5,299.9 L195.8,298.7 L200.0,297.5 L204.3,296.3 L208.5,295.1 L212.8,293.9 L217.0,292.6 L221.3,291.4 L225.5,290.1 L229.8,288.8 L234.0,287.6 L238.3,286.3 L242.5,285.0 L246.7,283.7 L251.0,282.3 L255.2,281.0 L259.5,279.6 L263.7,278.3 L268.0,276.9 L272.2,275.5 L276.5,274.1 L280.7,272.7 L285.0,271.2 L289.2,269.8 L293.5,268.3 L297.7,266.9 L302.0,265.4 L306.2,263.9 L310.5,262.4 L314.7,260.9 L319.0,259.4 L323.2,257.9 L327.5,256.4 L331.7,254.8 L336.0,253.3 L340.2,251.7 L344.5,250.1 L348.7,248.5 L353.0,246.9 L357.2,245.3 L361.5,243.7 L365.7,242.1 L370.0,240.4 L374.2,238.8 L378.5,237.1 L382.7,235.4 L387.0,233.7 L391.2,232.0 L395.5,230.3 L399.7,228.6 L404.0,226.9 L408.2,225.1 L412.5,223.4 L416.7,221.6 L420.9,219.9 L425.2,218.1 L429.4,216.3 L433.7,214.5 L437.9,212.7 L442.2,210.9 L446.4,209.1 L450.7,207.3 L454.9,205.4 L459.2,203.6 L463.4,201.8 L467.7,199.9 L471.9,198.0 L476.2,196.2 L480.4,194.3 L484.7,192.4 L488.9,190.5 L493.2,188.6 L497.4,186.6 L501.7,184.7 L505.9,182.8 L510.2,180.8 L514.4,178.9 L518.7,176.9 L522.9,175.0 L527.2,173.0 L531.4,171.0 L535.7,169.0 L539.9,167.0 L544.2,165.0 L548.4,162.9 L552.7,160.9 L556.9,158.8 L561.2,156.8 L565.4,154.7 L569.7,152.6 L573.9,150.5 L578.2,148.5 L582.4,146.4"/>
</g>
<rect x="92.7" y="13.6" width="186.9" height="103.5" fill="#fff" stroke="#0c0c0c" stroke-width="1.5"/>
<g font-size="11.1" style="stroke-width:0.55">
<text transform="translate(100.6,57.7) scale(1.078,1)">A = Transfuse</text>
<text transform="translate(100.6,74.5) scale(1.078,1)">B = Repeat MCA 5-7 days</text>
<text transform="translate(100.6,91.3) scale(1.078,1)">C = Repeat MCA 7-10 days</text>
<text transform="translate(100.6,108.1) scale(1.078,1)">D = Repeat MCA 2-3 weeks</text>
</g>
<g font-size="17.6" text-anchor="end">
<text x="62.8" y="31.6">70</text>
<text x="62.8" y="92">60</text>
<text x="62.8" y="152.4">50</text>
<text x="62.8" y="212.6">40</text>
<text x="62.8" y="273.1">30</text>
<text x="62.8" y="333">20</text>
</g>
<g font-size="18">
<text x="74" y="376.7">15</text>
<text x="199.7" y="376.7">20</text>
<text x="326.2" y="376.7">25</text>
<text x="453.5" y="376.7">30</text>
<text x="580.6" y="376.7">35</text>
</g>
<g font-size="17" style="stroke-width:0.8">
<text x="468.6" y="81.7">A</text>
<text x="468.6" y="145.1">B</text>
<text x="468.6" y="186.7">C</text>
<text x="468.6" y="227">D</text>
</g>
<text x="227.9" y="409.4" font-size="24">Gestational Age (wks)</text>
<text transform="translate(19.2,341) rotate(-90)" font-size="24.1">MCA peak velocity (cm/sec)</text>
</svg>
</body></html>
